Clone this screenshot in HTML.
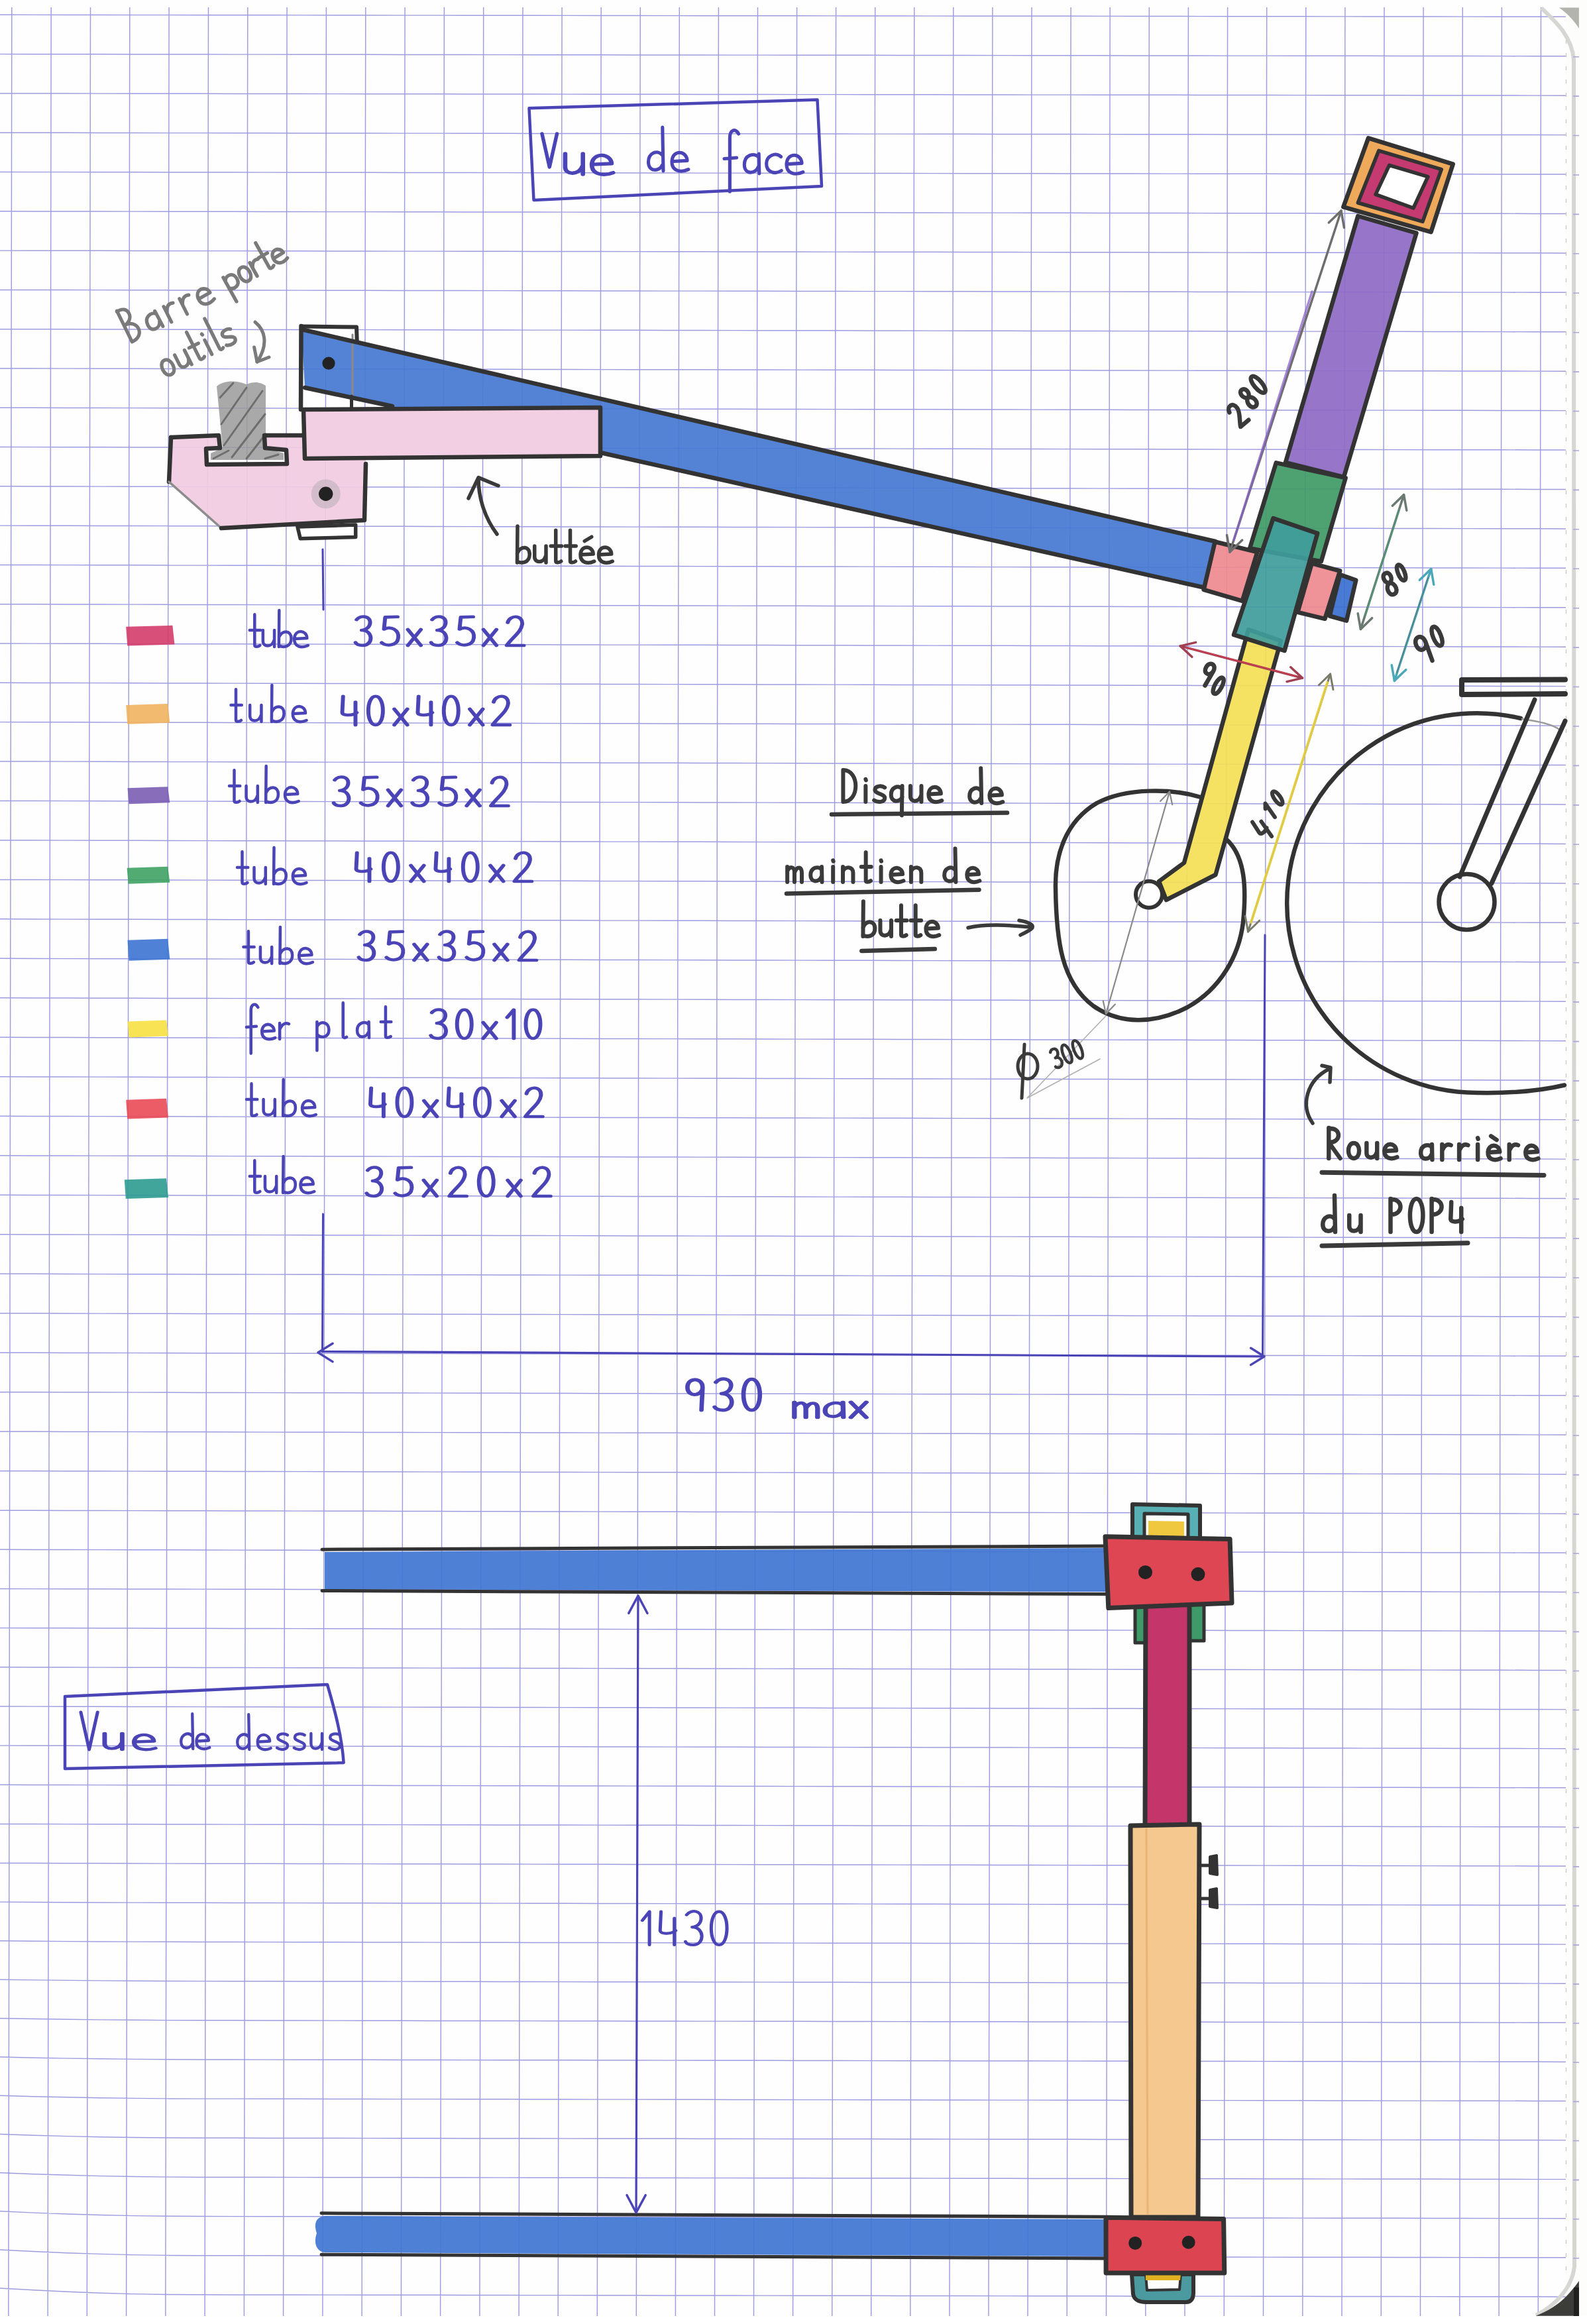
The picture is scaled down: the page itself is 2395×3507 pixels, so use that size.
<!DOCTYPE html><html><head><meta charset="utf-8"><style>html,body{margin:0;padding:0;background:#fff;}body{width:2395px;height:3507px;overflow:hidden;font-family:"Liberation Sans",sans-serif;}svg{display:block;}</style></head><body><svg width="2395" height="3507" viewBox="0 0 2395 3507"><rect x="0" y="0" width="2395" height="3507" fill="#fefefe"/>
<path d="M17.8,11L12.8,3495M77.2,11L72.1,3495M136.5,11L131.3,3495M195.8,11L190.6,3495M255.1,11L249.8,3495M314.5,11L309.1,3495M373.8,11L368.4,3495M433.1,11L427.6,3495M492.4,11L486.9,3495M551.8,11L546.1,3495M611.1,11L605.4,3495M670.4,11L664.6,3495M729.7,11L723.9,3495M789.0,11L783.1,3495M848.1,11L842.2,3495M907.2,11L901.3,3495M966.3,11L960.3,3495M1025.3,11L1019.4,3495M1084.4,11L1078.5,3495M1143.5,11L1137.5,3495M1202.6,11L1196.6,3495M1261.6,11L1255.7,3495M1320.7,11L1314.7,3495M1379.8,11L1373.8,3495M1438.8,11L1432.9,3495M1497.9,11L1491.9,3495M1557.0,11L1551.0,3495M1616.1,11L1610.2,3495M1675.2,11L1669.5,3495M1734.3,11L1728.8,3495M1793.4,11L1788.0,3495M1852.6,11L1847.3,3495M1911.7,11L1906.5,3495M1970.8,11L1965.8,3495M2029.9,11L2025.0,3495M2089.0,11L2084.3,3495M2148.1,11L2143.5,3495M2207.3,11L2202.8,3495M2266.4,11L2262.1,3495M2325.5,11L2321.3,3495M0.0,22.3L50.3,22.4L100.6,22.4L150.8,22.5L201.1,22.6L251.4,22.6L301.7,22.7L351.9,22.8L402.2,22.8L452.5,22.9L502.8,23.0L553.0,23.0L603.3,23.1L653.6,23.1L703.9,23.2L754.1,23.3L804.4,23.3L854.7,23.4L905.0,23.5L955.3,23.5L1005.5,23.6L1055.8,23.7L1106.1,23.7L1156.4,23.8L1206.6,23.8L1256.9,23.9L1307.2,24.0L1357.5,24.0L1407.7,24.1L1458.0,24.2L1508.3,24.2L1558.6,24.3L1608.9,24.3L1659.1,24.4L1709.4,24.5L1759.7,24.5L1810.0,24.6L1860.2,24.7L1910.5,24.7L1960.8,24.8L2011.1,24.9L2061.3,24.9L2111.6,25.0L2161.9,25.0L2212.2,25.1L2262.4,25.2L2312.7,25.2L2363.0,25.3M0.0,81.6L50.3,81.7L100.6,81.7L150.8,81.8L201.1,81.9L251.4,81.9L301.7,82.0L351.9,82.1L402.2,82.1L452.5,82.2L502.8,82.3L553.0,82.3L603.3,82.4L653.6,82.5L703.9,82.5L754.1,82.6L804.4,82.7L854.7,82.7L905.0,82.8L955.3,82.9L1005.5,82.9L1055.8,83.0L1106.1,83.1L1156.4,83.1L1206.6,83.2L1256.9,83.3L1307.2,83.3L1357.5,83.4L1407.7,83.5L1458.0,83.5L1508.3,83.6L1558.6,83.7L1608.9,83.7L1659.1,83.8L1709.4,83.9L1759.7,83.9L1810.0,84.0L1860.2,84.1L1910.5,84.1L1960.8,84.2L2011.1,84.3L2061.3,84.3L2111.6,84.4L2161.9,84.5L2212.2,84.5L2262.4,84.6L2312.7,84.7L2363.0,84.7M0.0,140.9L50.3,141.0L100.6,141.0L150.8,141.1L201.1,141.2L251.4,141.3L301.7,141.3L351.9,141.4L402.2,141.5L452.5,141.5L502.8,141.6L553.0,141.7L603.3,141.7L653.6,141.8L703.9,141.9L754.1,141.9L804.4,142.0L854.7,142.1L905.0,142.2L955.3,142.2L1005.5,142.3L1055.8,142.4L1106.1,142.4L1156.4,142.5L1206.6,142.6L1256.9,142.6L1307.2,142.7L1357.5,142.8L1407.7,142.8L1458.0,142.9L1508.3,143.0L1558.6,143.1L1608.9,143.1L1659.1,143.2L1709.4,143.3L1759.7,143.3L1810.0,143.4L1860.2,143.5L1910.5,143.5L1960.8,143.6L2011.1,143.7L2061.3,143.7L2111.6,143.8L2161.9,143.9L2212.2,144.0L2262.4,144.0L2312.7,144.1L2363.0,144.2M0.0,200.2L50.3,200.3L100.6,200.3L150.8,200.4L201.1,200.5L251.4,200.6L301.7,200.6L351.9,200.7L402.2,200.8L452.5,200.9L502.8,200.9L553.0,201.0L603.3,201.1L653.6,201.1L703.9,201.2L754.1,201.3L804.4,201.4L854.7,201.4L905.0,201.5L955.3,201.6L1005.5,201.6L1055.8,201.7L1106.1,201.8L1156.4,201.9L1206.6,201.9L1256.9,202.0L1307.2,202.1L1357.5,202.1L1407.7,202.2L1458.0,202.3L1508.3,202.4L1558.6,202.4L1608.9,202.5L1659.1,202.6L1709.4,202.7L1759.7,202.7L1810.0,202.8L1860.2,202.9L1910.5,202.9L1960.8,203.0L2011.1,203.1L2061.3,203.2L2111.6,203.2L2161.9,203.3L2212.2,203.4L2262.4,203.4L2312.7,203.5L2363.0,203.6M0.0,259.5L50.3,259.6L100.6,259.6L150.8,259.7L201.1,259.8L251.4,259.9L301.7,259.9L351.9,260.0L402.2,260.1L452.5,260.2L502.8,260.2L553.0,260.3L603.3,260.4L653.6,260.5L703.9,260.5L754.1,260.6L804.4,260.7L854.7,260.8L905.0,260.8L955.3,260.9L1005.5,261.0L1055.8,261.1L1106.1,261.1L1156.4,261.2L1206.6,261.3L1256.9,261.4L1307.2,261.4L1357.5,261.5L1407.7,261.6L1458.0,261.7L1508.3,261.7L1558.6,261.8L1608.9,261.9L1659.1,262.0L1709.4,262.0L1759.7,262.1L1810.0,262.2L1860.2,262.3L1910.5,262.3L1960.8,262.4L2011.1,262.5L2061.3,262.6L2111.6,262.6L2161.9,262.7L2212.2,262.8L2262.4,262.9L2312.7,262.9L2363.0,263.0M0.0,318.8L50.3,318.9L100.6,318.9L150.8,319.0L201.1,319.1L251.4,319.2L301.7,319.3L351.9,319.3L402.2,319.4L452.5,319.5L502.8,319.6L553.0,319.6L603.3,319.7L653.6,319.8L703.9,319.9L754.1,320.0L804.4,320.0L854.7,320.1L905.0,320.2L955.3,320.3L1005.5,320.3L1055.8,320.4L1106.1,320.5L1156.4,320.6L1206.6,320.7L1256.9,320.7L1307.2,320.8L1357.5,320.9L1407.7,321.0L1458.0,321.1L1508.3,321.1L1558.6,321.2L1608.9,321.3L1659.1,321.4L1709.4,321.4L1759.7,321.5L1810.0,321.6L1860.2,321.7L1910.5,321.8L1960.8,321.8L2011.1,321.9L2061.3,322.0L2111.6,322.1L2161.9,322.1L2212.2,322.2L2262.4,322.3L2312.7,322.4L2363.0,322.5M0.0,378.1L50.3,378.2L100.6,378.2L150.8,378.3L201.1,378.4L251.4,378.5L301.7,378.6L351.9,378.6L402.2,378.7L452.5,378.8L502.8,378.9L553.0,379.0L603.3,379.1L653.6,379.1L703.9,379.2L754.1,379.3L804.4,379.4L854.7,379.5L905.0,379.5L955.3,379.6L1005.5,379.7L1055.8,379.8L1106.1,379.9L1156.4,379.9L1206.6,380.0L1256.9,380.1L1307.2,380.2L1357.5,380.3L1407.7,380.3L1458.0,380.4L1508.3,380.5L1558.6,380.6L1608.9,380.7L1659.1,380.8L1709.4,380.8L1759.7,380.9L1810.0,381.0L1860.2,381.1L1910.5,381.2L1960.8,381.2L2011.1,381.3L2061.3,381.4L2111.6,381.5L2161.9,381.6L2212.2,381.6L2262.4,381.7L2312.7,381.8L2363.0,381.9M0.0,437.4L50.3,437.5L100.6,437.5L150.8,437.6L201.1,437.7L251.4,437.8L301.7,437.9L351.9,438.0L402.2,438.0L452.5,438.1L502.8,438.2L553.0,438.3L603.3,438.4L653.6,438.5L703.9,438.5L754.1,438.6L804.4,438.7L854.7,438.8L905.0,438.9L955.3,439.0L1005.5,439.1L1055.8,439.1L1106.1,439.2L1156.4,439.3L1206.6,439.4L1256.9,439.5L1307.2,439.6L1357.5,439.6L1407.7,439.7L1458.0,439.8L1508.3,439.9L1558.6,440.0L1608.9,440.1L1659.1,440.1L1709.4,440.2L1759.7,440.3L1810.0,440.4L1860.2,440.5L1910.5,440.6L1960.8,440.6L2011.1,440.7L2061.3,440.8L2111.6,440.9L2161.9,441.0L2212.2,441.1L2262.4,441.1L2312.7,441.2L2363.0,441.3M0.0,496.7L50.3,496.8L100.6,496.8L150.8,496.9L201.1,497.0L251.4,497.1L301.7,497.2L351.9,497.3L402.2,497.4L452.5,497.4L502.8,497.5L553.0,497.6L603.3,497.7L653.6,497.8L703.9,497.9L754.1,498.0L804.4,498.1L854.7,498.1L905.0,498.2L955.3,498.3L1005.5,498.4L1055.8,498.5L1106.1,498.6L1156.4,498.7L1206.6,498.8L1256.9,498.8L1307.2,498.9L1357.5,499.0L1407.7,499.1L1458.0,499.2L1508.3,499.3L1558.6,499.4L1608.9,499.4L1659.1,499.5L1709.4,499.6L1759.7,499.7L1810.0,499.8L1860.2,499.9L1910.5,500.0L1960.8,500.1L2011.1,500.1L2061.3,500.2L2111.6,500.3L2161.9,500.4L2212.2,500.5L2262.4,500.6L2312.7,500.7L2363.0,500.7M0.0,556.0L50.3,556.0L100.6,556.1L150.8,556.2L201.1,556.3L251.4,556.4L301.7,556.5L351.9,556.6L402.2,556.7L452.5,556.8L502.8,556.9L553.0,556.9L603.3,557.0L653.6,557.1L703.9,557.2L754.1,557.3L804.4,557.4L854.7,557.5L905.0,557.6L955.3,557.7L1005.5,557.8L1055.8,557.8L1106.1,557.9L1156.4,558.0L1206.6,558.1L1256.9,558.2L1307.2,558.3L1357.5,558.4L1407.7,558.5L1458.0,558.6L1508.3,558.7L1558.6,558.7L1608.9,558.8L1659.1,558.9L1709.4,559.0L1759.7,559.1L1810.0,559.2L1860.2,559.3L1910.5,559.4L1960.8,559.5L2011.1,559.6L2061.3,559.6L2111.6,559.7L2161.9,559.8L2212.2,559.9L2262.4,560.0L2312.7,560.1L2363.0,560.2M0.0,615.3L50.3,615.3L100.6,615.4L150.8,615.5L201.1,615.6L251.4,615.7L301.7,615.8L351.9,615.9L402.2,616.0L452.5,616.1L502.8,616.2L553.0,616.3L603.3,616.4L653.6,616.5L703.9,616.6L754.1,616.6L804.4,616.7L854.7,616.8L905.0,616.9L955.3,617.0L1005.5,617.1L1055.8,617.2L1106.1,617.3L1156.4,617.4L1206.6,617.5L1256.9,617.6L1307.2,617.7L1357.5,617.8L1407.7,617.8L1458.0,617.9L1508.3,618.0L1558.6,618.1L1608.9,618.2L1659.1,618.3L1709.4,618.4L1759.7,618.5L1810.0,618.6L1860.2,618.7L1910.5,618.8L1960.8,618.9L2011.1,619.0L2061.3,619.1L2111.6,619.1L2161.9,619.2L2212.2,619.3L2262.4,619.4L2312.7,619.5L2363.0,619.6M0.0,674.5L50.3,674.6L100.6,674.7L150.8,674.8L201.1,674.9L251.4,675.0L301.7,675.1L351.9,675.2L402.2,675.3L452.5,675.4L502.8,675.5L553.0,675.6L603.3,675.7L653.6,675.8L703.9,675.9L754.1,676.0L804.4,676.1L854.7,676.2L905.0,676.3L955.3,676.4L1005.5,676.5L1055.8,676.6L1106.1,676.6L1156.4,676.7L1206.6,676.8L1256.9,676.9L1307.2,677.0L1357.5,677.1L1407.7,677.2L1458.0,677.3L1508.3,677.4L1558.6,677.5L1608.9,677.6L1659.1,677.7L1709.4,677.8L1759.7,677.9L1810.0,678.0L1860.2,678.1L1910.5,678.2L1960.8,678.3L2011.1,678.4L2061.3,678.5L2111.6,678.6L2161.9,678.7L2212.2,678.8L2262.4,678.8L2312.7,678.9L2363.0,679.0M0.0,733.8L50.3,733.9L100.6,734.0L150.8,734.1L201.1,734.2L251.4,734.3L301.7,734.4L351.9,734.5L402.2,734.6L452.5,734.7L502.8,734.8L553.0,734.9L603.3,735.0L653.6,735.1L703.9,735.2L754.1,735.3L804.4,735.4L854.7,735.5L905.0,735.6L955.3,735.7L1005.5,735.8L1055.8,735.9L1106.1,736.0L1156.4,736.1L1206.6,736.2L1256.9,736.3L1307.2,736.4L1357.5,736.5L1407.7,736.6L1458.0,736.7L1508.3,736.8L1558.6,736.9L1608.9,737.0L1659.1,737.1L1709.4,737.2L1759.7,737.3L1810.0,737.4L1860.2,737.5L1910.5,737.6L1960.8,737.7L2011.1,737.8L2061.3,737.9L2111.6,738.0L2161.9,738.1L2212.2,738.2L2262.4,738.3L2312.7,738.4L2363.0,738.5M0.0,793.1L50.3,793.2L100.6,793.3L150.8,793.4L201.1,793.5L251.4,793.6L301.7,793.7L351.9,793.8L402.2,793.9L452.5,794.0L502.8,794.1L553.0,794.2L603.3,794.3L653.6,794.5L703.9,794.6L754.1,794.7L804.4,794.8L854.7,794.9L905.0,795.0L955.3,795.1L1005.5,795.2L1055.8,795.3L1106.1,795.4L1156.4,795.5L1206.6,795.6L1256.9,795.7L1307.2,795.8L1357.5,795.9L1407.7,796.0L1458.0,796.1L1508.3,796.2L1558.6,796.3L1608.9,796.4L1659.1,796.5L1709.4,796.6L1759.7,796.7L1810.0,796.8L1860.2,796.9L1910.5,797.0L1960.8,797.1L2011.1,797.2L2061.3,797.3L2111.6,797.4L2161.9,797.5L2212.2,797.6L2262.4,797.7L2312.7,797.8L2363.0,797.9M0.0,852.4L50.3,852.5L100.6,852.6L150.8,852.7L201.1,852.8L251.4,852.9L301.7,853.1L351.9,853.2L402.2,853.3L452.5,853.4L502.8,853.5L553.0,853.6L603.3,853.7L653.6,853.8L703.9,853.9L754.1,854.0L804.4,854.1L854.7,854.2L905.0,854.3L955.3,854.4L1005.5,854.5L1055.8,854.6L1106.1,854.7L1156.4,854.8L1206.6,854.9L1256.9,855.0L1307.2,855.1L1357.5,855.2L1407.7,855.3L1458.0,855.5L1508.3,855.6L1558.6,855.7L1608.9,855.8L1659.1,855.9L1709.4,856.0L1759.7,856.1L1810.0,856.2L1860.2,856.3L1910.5,856.4L1960.8,856.5L2011.1,856.6L2061.3,856.7L2111.6,856.8L2161.9,856.9L2212.2,857.0L2262.4,857.1L2312.7,857.2L2363.0,857.3M0.0,911.7L50.3,911.8L100.6,911.9L150.8,912.0L201.1,912.1L251.4,912.3L301.7,912.4L351.9,912.5L402.2,912.6L452.5,912.7L502.8,912.8L553.0,912.9L603.3,913.0L653.6,913.1L703.9,913.2L754.1,913.3L804.4,913.4L854.7,913.5L905.0,913.7L955.3,913.8L1005.5,913.9L1055.8,914.0L1106.1,914.1L1156.4,914.2L1206.6,914.3L1256.9,914.4L1307.2,914.5L1357.5,914.6L1407.7,914.7L1458.0,914.8L1508.3,914.9L1558.6,915.0L1608.9,915.2L1659.1,915.3L1709.4,915.4L1759.7,915.5L1810.0,915.6L1860.2,915.7L1910.5,915.8L1960.8,915.9L2011.1,916.0L2061.3,916.1L2111.6,916.2L2161.9,916.3L2212.2,916.4L2262.4,916.6L2312.7,916.7L2363.0,916.8M0.0,971.0L50.3,971.1L100.6,971.2L150.8,971.3L201.1,971.5L251.4,971.6L301.7,971.7L351.9,971.8L402.2,971.9L452.5,972.0L502.8,972.1L553.0,972.2L603.3,972.3L653.6,972.4L703.9,972.6L754.1,972.7L804.4,972.8L854.7,972.9L905.0,973.0L955.3,973.1L1005.5,973.2L1055.8,973.3L1106.1,973.4L1156.4,973.5L1206.6,973.7L1256.9,973.8L1307.2,973.9L1357.5,974.0L1407.7,974.1L1458.0,974.2L1508.3,974.3L1558.6,974.4L1608.9,974.5L1659.1,974.7L1709.4,974.8L1759.7,974.9L1810.0,975.0L1860.2,975.1L1910.5,975.2L1960.8,975.3L2011.1,975.4L2061.3,975.5L2111.6,975.6L2161.9,975.8L2212.2,975.9L2262.4,976.0L2312.7,976.1L2363.0,976.2M0.0,1030.3L50.3,1030.4L100.6,1030.5L150.8,1030.6L201.1,1030.8L251.4,1030.9L301.7,1031.0L351.9,1031.1L402.2,1031.2L452.5,1031.3L502.8,1031.4L553.0,1031.5L603.3,1031.7L653.6,1031.8L703.9,1031.9L754.1,1032.0L804.4,1032.1L854.7,1032.2L905.0,1032.3L955.3,1032.5L1005.5,1032.6L1055.8,1032.7L1106.1,1032.8L1156.4,1032.9L1206.6,1033.0L1256.9,1033.1L1307.2,1033.2L1357.5,1033.4L1407.7,1033.5L1458.0,1033.6L1508.3,1033.7L1558.6,1033.8L1608.9,1033.9L1659.1,1034.0L1709.4,1034.2L1759.7,1034.3L1810.0,1034.4L1860.2,1034.5L1910.5,1034.6L1960.8,1034.7L2011.1,1034.8L2061.3,1034.9L2111.6,1035.1L2161.9,1035.2L2212.2,1035.3L2262.4,1035.4L2312.7,1035.5L2363.0,1035.6M0.0,1089.6L50.3,1089.7L100.6,1089.8L150.8,1089.9L201.1,1090.1L251.4,1090.2L301.7,1090.3L351.9,1090.4L402.2,1090.5L452.5,1090.6L502.8,1090.8L553.0,1090.9L603.3,1091.0L653.6,1091.1L703.9,1091.2L754.1,1091.3L804.4,1091.5L854.7,1091.6L905.0,1091.7L955.3,1091.8L1005.5,1091.9L1055.8,1092.0L1106.1,1092.2L1156.4,1092.3L1206.6,1092.4L1256.9,1092.5L1307.2,1092.6L1357.5,1092.7L1407.7,1092.9L1458.0,1093.0L1508.3,1093.1L1558.6,1093.2L1608.9,1093.3L1659.1,1093.4L1709.4,1093.5L1759.7,1093.7L1810.0,1093.8L1860.2,1093.9L1910.5,1094.0L1960.8,1094.1L2011.1,1094.2L2061.3,1094.4L2111.6,1094.5L2161.9,1094.6L2212.2,1094.7L2262.4,1094.8L2312.7,1094.9L2363.0,1095.1M0.0,1148.9L50.3,1149.0L100.6,1149.1L150.8,1149.2L201.1,1149.4L251.4,1149.5L301.7,1149.6L351.9,1149.7L402.2,1149.8L452.5,1150.0L502.8,1150.1L553.0,1150.2L603.3,1150.3L653.6,1150.4L703.9,1150.6L754.1,1150.7L804.4,1150.8L854.7,1150.9L905.0,1151.0L955.3,1151.2L1005.5,1151.3L1055.8,1151.4L1106.1,1151.5L1156.4,1151.6L1206.6,1151.7L1256.9,1151.9L1307.2,1152.0L1357.5,1152.1L1407.7,1152.2L1458.0,1152.3L1508.3,1152.5L1558.6,1152.6L1608.9,1152.7L1659.1,1152.8L1709.4,1152.9L1759.7,1153.1L1810.0,1153.2L1860.2,1153.3L1910.5,1153.4L1960.8,1153.5L2011.1,1153.7L2061.3,1153.8L2111.6,1153.9L2161.9,1154.0L2212.2,1154.1L2262.4,1154.3L2312.7,1154.4L2363.0,1154.5M0.0,1208.4L50.3,1208.5L100.6,1208.6L150.8,1208.7L201.1,1208.9L251.4,1209.0L301.7,1209.1L351.9,1209.2L402.2,1209.3L452.5,1209.4L502.8,1209.6L553.0,1209.7L603.3,1209.8L653.6,1209.9L703.9,1210.0L754.1,1210.2L804.4,1210.3L854.7,1210.4L905.0,1210.5L955.3,1210.6L1005.5,1210.7L1055.8,1210.9L1106.1,1211.0L1156.4,1211.1L1206.6,1211.2L1256.9,1211.3L1307.2,1211.5L1357.5,1211.6L1407.7,1211.7L1458.0,1211.8L1508.3,1211.9L1558.6,1212.1L1608.9,1212.2L1659.1,1212.3L1709.4,1212.4L1759.7,1212.5L1810.0,1212.6L1860.2,1212.8L1910.5,1212.9L1960.8,1213.0L2011.1,1213.1L2061.3,1213.2L2111.6,1213.4L2161.9,1213.5L2212.2,1213.6L2262.4,1213.7L2312.7,1213.8L2363.0,1213.9M0.0,1267.9L50.3,1268.0L100.6,1268.1L150.8,1268.2L201.1,1268.3L251.4,1268.5L301.7,1268.6L351.9,1268.7L402.2,1268.8L452.5,1268.9L502.8,1269.0L553.0,1269.2L603.3,1269.3L653.6,1269.4L703.9,1269.5L754.1,1269.6L804.4,1269.8L854.7,1269.9L905.0,1270.0L955.3,1270.1L1005.5,1270.2L1055.8,1270.3L1106.1,1270.5L1156.4,1270.6L1206.6,1270.7L1256.9,1270.8L1307.2,1270.9L1357.5,1271.0L1407.7,1271.2L1458.0,1271.3L1508.3,1271.4L1558.6,1271.5L1608.9,1271.6L1659.1,1271.8L1709.4,1271.9L1759.7,1272.0L1810.0,1272.1L1860.2,1272.2L1910.5,1272.3L1960.8,1272.5L2011.1,1272.6L2061.3,1272.7L2111.6,1272.8L2161.9,1272.9L2212.2,1273.0L2262.4,1273.2L2312.7,1273.3L2363.0,1273.4M0.0,1327.4L50.3,1327.5L100.6,1327.6L150.8,1327.7L201.1,1327.8L251.4,1327.9L301.7,1328.1L351.9,1328.2L402.2,1328.3L452.5,1328.4L502.8,1328.5L553.0,1328.6L603.3,1328.8L653.6,1328.9L703.9,1329.0L754.1,1329.1L804.4,1329.2L854.7,1329.3L905.0,1329.5L955.3,1329.6L1005.5,1329.7L1055.8,1329.8L1106.1,1329.9L1156.4,1330.0L1206.6,1330.2L1256.9,1330.3L1307.2,1330.4L1357.5,1330.5L1407.7,1330.6L1458.0,1330.8L1508.3,1330.9L1558.6,1331.0L1608.9,1331.1L1659.1,1331.2L1709.4,1331.3L1759.7,1331.5L1810.0,1331.6L1860.2,1331.7L1910.5,1331.8L1960.8,1331.9L2011.1,1332.0L2061.3,1332.2L2111.6,1332.3L2161.9,1332.4L2212.2,1332.5L2262.4,1332.6L2312.7,1332.7L2363.0,1332.9M0.0,1386.8L50.3,1387.0L100.6,1387.1L150.8,1387.2L201.1,1387.3L251.4,1387.4L301.7,1387.5L351.9,1387.7L402.2,1387.8L452.5,1387.9L502.8,1388.0L553.0,1388.1L603.3,1388.2L653.6,1388.4L703.9,1388.5L754.1,1388.6L804.4,1388.7L854.7,1388.8L905.0,1388.9L955.3,1389.1L1005.5,1389.2L1055.8,1389.3L1106.1,1389.4L1156.4,1389.5L1206.6,1389.6L1256.9,1389.8L1307.2,1389.9L1357.5,1390.0L1407.7,1390.1L1458.0,1390.2L1508.3,1390.3L1558.6,1390.5L1608.9,1390.6L1659.1,1390.7L1709.4,1390.8L1759.7,1390.9L1810.0,1391.0L1860.2,1391.2L1910.5,1391.3L1960.8,1391.4L2011.1,1391.5L2061.3,1391.6L2111.6,1391.7L2161.9,1391.8L2212.2,1392.0L2262.4,1392.1L2312.7,1392.2L2363.0,1392.3M0.0,1446.3L50.3,1446.4L100.6,1446.6L150.8,1446.7L201.1,1446.8L251.4,1446.9L301.7,1447.0L351.9,1447.1L402.2,1447.3L452.5,1447.4L502.8,1447.5L553.0,1447.6L603.3,1447.7L653.6,1447.8L703.9,1448.0L754.1,1448.1L804.4,1448.2L854.7,1448.3L905.0,1448.4L955.3,1448.5L1005.5,1448.6L1055.8,1448.8L1106.1,1448.9L1156.4,1449.0L1206.6,1449.1L1256.9,1449.2L1307.2,1449.3L1357.5,1449.5L1407.7,1449.6L1458.0,1449.7L1508.3,1449.8L1558.6,1449.9L1608.9,1450.0L1659.1,1450.2L1709.4,1450.3L1759.7,1450.4L1810.0,1450.5L1860.2,1450.6L1910.5,1450.7L1960.8,1450.8L2011.1,1451.0L2061.3,1451.1L2111.6,1451.2L2161.9,1451.3L2212.2,1451.4L2262.4,1451.5L2312.7,1451.7L2363.0,1451.8M0.0,1505.8L50.3,1505.9L100.6,1506.0L150.8,1506.2L201.1,1506.3L251.4,1506.4L301.7,1506.5L351.9,1506.6L402.2,1506.7L452.5,1506.9L502.8,1507.0L553.0,1507.1L603.3,1507.2L653.6,1507.3L703.9,1507.4L754.1,1507.5L804.4,1507.7L854.7,1507.8L905.0,1507.9L955.3,1508.0L1005.5,1508.1L1055.8,1508.2L1106.1,1508.4L1156.4,1508.5L1206.6,1508.6L1256.9,1508.7L1307.2,1508.8L1357.5,1508.9L1407.7,1509.0L1458.0,1509.2L1508.3,1509.3L1558.6,1509.4L1608.9,1509.5L1659.1,1509.6L1709.4,1509.7L1759.7,1509.8L1810.0,1510.0L1860.2,1510.1L1910.5,1510.2L1960.8,1510.3L2011.1,1510.4L2061.3,1510.5L2111.6,1510.7L2161.9,1510.8L2212.2,1510.9L2262.4,1511.0L2312.7,1511.1L2363.0,1511.2M0.0,1565.3L50.3,1565.4L100.6,1565.5L150.8,1565.7L201.1,1565.8L251.4,1565.9L301.7,1566.0L351.9,1566.1L402.2,1566.2L452.5,1566.3L502.8,1566.5L553.0,1566.6L603.3,1566.7L653.6,1566.8L703.9,1566.9L754.1,1567.0L804.4,1567.1L854.7,1567.3L905.0,1567.4L955.3,1567.5L1005.5,1567.6L1055.8,1567.7L1106.1,1567.8L1156.4,1567.9L1206.6,1568.1L1256.9,1568.2L1307.2,1568.3L1357.5,1568.4L1407.7,1568.5L1458.0,1568.6L1508.3,1568.7L1558.6,1568.9L1608.9,1569.0L1659.1,1569.1L1709.4,1569.2L1759.7,1569.3L1810.0,1569.4L1860.2,1569.5L1910.5,1569.7L1960.8,1569.8L2011.1,1569.9L2061.3,1570.0L2111.6,1570.1L2161.9,1570.2L2212.2,1570.3L2262.4,1570.5L2312.7,1570.6L2363.0,1570.7M0.0,1624.8L50.3,1624.9L100.6,1625.0L150.8,1625.1L201.1,1625.2L251.4,1625.4L301.7,1625.5L351.9,1625.6L402.2,1625.7L452.5,1625.8L502.8,1625.9L553.0,1626.0L603.3,1626.2L653.6,1626.3L703.9,1626.4L754.1,1626.5L804.4,1626.6L854.7,1626.7L905.0,1626.8L955.3,1627.0L1005.5,1627.1L1055.8,1627.2L1106.1,1627.3L1156.4,1627.4L1206.6,1627.5L1256.9,1627.6L1307.2,1627.8L1357.5,1627.9L1407.7,1628.0L1458.0,1628.1L1508.3,1628.2L1558.6,1628.3L1608.9,1628.4L1659.1,1628.5L1709.4,1628.7L1759.7,1628.8L1810.0,1628.9L1860.2,1629.0L1910.5,1629.1L1960.8,1629.2L2011.1,1629.3L2061.3,1629.5L2111.6,1629.6L2161.9,1629.7L2212.2,1629.8L2262.4,1629.9L2312.7,1630.0L2363.0,1630.1M0.0,1684.3L50.3,1684.4L100.6,1684.5L150.8,1684.6L201.1,1684.7L251.4,1684.8L301.7,1685.0L351.9,1685.1L402.2,1685.2L452.5,1685.3L502.8,1685.4L553.0,1685.5L603.3,1685.6L653.6,1685.8L703.9,1685.9L754.1,1686.0L804.4,1686.1L854.7,1686.2L905.0,1686.3L955.3,1686.4L1005.5,1686.5L1055.8,1686.7L1106.1,1686.8L1156.4,1686.9L1206.6,1687.0L1256.9,1687.1L1307.2,1687.2L1357.5,1687.3L1407.7,1687.4L1458.0,1687.6L1508.3,1687.7L1558.6,1687.8L1608.9,1687.9L1659.1,1688.0L1709.4,1688.1L1759.7,1688.2L1810.0,1688.4L1860.2,1688.5L1910.5,1688.6L1960.8,1688.7L2011.1,1688.8L2061.3,1688.9L2111.6,1689.0L2161.9,1689.1L2212.2,1689.3L2262.4,1689.4L2312.7,1689.5L2363.0,1689.6M0.0,1743.8L50.3,1743.9L100.6,1744.0L150.8,1744.1L201.1,1744.2L251.4,1744.3L301.7,1744.4L351.9,1744.6L402.2,1744.7L452.5,1744.8L502.8,1744.9L553.0,1745.0L603.3,1745.1L653.6,1745.2L703.9,1745.3L754.1,1745.5L804.4,1745.6L854.7,1745.7L905.0,1745.8L955.3,1745.9L1005.5,1746.0L1055.8,1746.1L1106.1,1746.2L1156.4,1746.4L1206.6,1746.5L1256.9,1746.6L1307.2,1746.7L1357.5,1746.8L1407.7,1746.9L1458.0,1747.0L1508.3,1747.1L1558.6,1747.3L1608.9,1747.4L1659.1,1747.5L1709.4,1747.6L1759.7,1747.7L1810.0,1747.8L1860.2,1747.9L1910.5,1748.0L1960.8,1748.2L2011.1,1748.3L2061.3,1748.4L2111.6,1748.5L2161.9,1748.6L2212.2,1748.7L2262.4,1748.8L2312.7,1748.9L2363.0,1749.1M0.0,1803.3L50.3,1803.4L100.6,1803.5L150.8,1803.6L201.1,1803.7L251.4,1803.8L301.7,1803.9L351.9,1804.0L402.2,1804.2L452.5,1804.3L502.8,1804.4L553.0,1804.5L603.3,1804.6L653.6,1804.7L703.9,1804.8L754.1,1804.9L804.4,1805.0L854.7,1805.2L905.0,1805.3L955.3,1805.4L1005.5,1805.5L1055.8,1805.6L1106.1,1805.7L1156.4,1805.8L1206.6,1805.9L1256.9,1806.1L1307.2,1806.2L1357.5,1806.3L1407.7,1806.4L1458.0,1806.5L1508.3,1806.6L1558.6,1806.7L1608.9,1806.8L1659.1,1806.9L1709.4,1807.1L1759.7,1807.2L1810.0,1807.3L1860.2,1807.4L1910.5,1807.5L1960.8,1807.6L2011.1,1807.7L2061.3,1807.8L2111.6,1808.0L2161.9,1808.1L2212.2,1808.2L2262.4,1808.3L2312.7,1808.4L2363.0,1808.5M0.0,1862.7L50.3,1862.9L100.6,1863.0L150.8,1863.1L201.1,1863.2L251.4,1863.3L301.7,1863.4L351.9,1863.5L402.2,1863.6L452.5,1863.7L502.8,1863.9L553.0,1864.0L603.3,1864.1L653.6,1864.2L703.9,1864.3L754.1,1864.4L804.4,1864.5L854.7,1864.6L905.0,1864.7L955.3,1864.9L1005.5,1865.0L1055.8,1865.1L1106.1,1865.2L1156.4,1865.3L1206.6,1865.4L1256.9,1865.5L1307.2,1865.6L1357.5,1865.7L1407.7,1865.9L1458.0,1866.0L1508.3,1866.1L1558.6,1866.2L1608.9,1866.3L1659.1,1866.4L1709.4,1866.5L1759.7,1866.6L1810.0,1866.7L1860.2,1866.9L1910.5,1867.0L1960.8,1867.1L2011.1,1867.2L2061.3,1867.3L2111.6,1867.4L2161.9,1867.5L2212.2,1867.6L2262.4,1867.7L2312.7,1867.9L2363.0,1868.0M0.0,1922.2L50.3,1922.3L100.6,1922.5L150.8,1922.6L201.1,1922.7L251.4,1922.8L301.7,1922.9L351.9,1923.0L402.2,1923.1L452.5,1923.2L502.8,1923.3L553.0,1923.5L603.3,1923.6L653.6,1923.7L703.9,1923.8L754.1,1923.9L804.4,1924.0L854.7,1924.1L905.0,1924.2L955.3,1924.3L1005.5,1924.4L1055.8,1924.6L1106.1,1924.7L1156.4,1924.8L1206.6,1924.9L1256.9,1925.0L1307.2,1925.1L1357.5,1925.2L1407.7,1925.3L1458.0,1925.4L1508.3,1925.5L1558.6,1925.7L1608.9,1925.8L1659.1,1925.9L1709.4,1926.0L1759.7,1926.1L1810.0,1926.2L1860.2,1926.3L1910.5,1926.4L1960.8,1926.5L2011.1,1926.6L2061.3,1926.8L2111.6,1926.9L2161.9,1927.0L2212.2,1927.1L2262.4,1927.2L2312.7,1927.3L2363.0,1927.4M0.0,1981.7L50.3,1981.8L100.6,1981.9L150.8,1982.1L201.1,1982.2L251.4,1982.3L301.7,1982.4L351.9,1982.5L402.2,1982.6L452.5,1982.7L502.8,1982.8L553.0,1982.9L603.3,1983.0L653.6,1983.2L703.9,1983.3L754.1,1983.4L804.4,1983.5L854.7,1983.6L905.0,1983.7L955.3,1983.8L1005.5,1983.9L1055.8,1984.0L1106.1,1984.1L1156.4,1984.2L1206.6,1984.4L1256.9,1984.5L1307.2,1984.6L1357.5,1984.7L1407.7,1984.8L1458.0,1984.9L1508.3,1985.0L1558.6,1985.1L1608.9,1985.2L1659.1,1985.3L1709.4,1985.5L1759.7,1985.6L1810.0,1985.7L1860.2,1985.8L1910.5,1985.9L1960.8,1986.0L2011.1,1986.1L2061.3,1986.2L2111.6,1986.3L2161.9,1986.4L2212.2,1986.5L2262.4,1986.7L2312.7,1986.8L2363.0,1986.9M0.0,2041.2L50.3,2041.3L100.6,2041.4L150.8,2041.5L201.1,2041.6L251.4,2041.8L301.7,2041.9L351.9,2042.0L402.2,2042.1L452.5,2042.2L502.8,2042.3L553.0,2042.4L603.3,2042.5L653.6,2042.6L703.9,2042.7L754.1,2042.8L804.4,2043.0L854.7,2043.1L905.0,2043.2L955.3,2043.3L1005.5,2043.4L1055.8,2043.5L1106.1,2043.6L1156.4,2043.7L1206.6,2043.8L1256.9,2043.9L1307.2,2044.0L1357.5,2044.2L1407.7,2044.3L1458.0,2044.4L1508.3,2044.5L1558.6,2044.6L1608.9,2044.7L1659.1,2044.8L1709.4,2044.9L1759.7,2045.0L1810.0,2045.1L1860.2,2045.2L1910.5,2045.4L1960.8,2045.5L2011.1,2045.6L2061.3,2045.7L2111.6,2045.8L2161.9,2045.9L2212.2,2046.0L2262.4,2046.1L2312.7,2046.2L2363.0,2046.3M0.0,2100.7L50.3,2100.8L100.6,2100.9L150.8,2101.0L201.1,2101.1L251.4,2101.2L301.7,2101.4L351.9,2101.5L402.2,2101.6L452.5,2101.7L502.8,2101.8L553.0,2101.9L603.3,2102.0L653.6,2102.1L703.9,2102.2L754.1,2102.3L804.4,2102.4L854.7,2102.5L905.0,2102.7L955.3,2102.8L1005.5,2102.9L1055.8,2103.0L1106.1,2103.1L1156.4,2103.2L1206.6,2103.3L1256.9,2103.4L1307.2,2103.5L1357.5,2103.6L1407.7,2103.7L1458.0,2103.8L1508.3,2104.0L1558.6,2104.1L1608.9,2104.2L1659.1,2104.3L1709.4,2104.4L1759.7,2104.5L1810.0,2104.6L1860.2,2104.7L1910.5,2104.8L1960.8,2104.9L2011.1,2105.0L2061.3,2105.1L2111.6,2105.2L2161.9,2105.4L2212.2,2105.5L2262.4,2105.6L2312.7,2105.7L2363.0,2105.8M0.0,2160.2L50.3,2160.3L100.6,2160.4L150.8,2160.5L201.1,2160.6L251.4,2160.7L301.7,2160.8L351.9,2160.9L402.2,2161.1L452.5,2161.2L502.8,2161.3L553.0,2161.4L603.3,2161.5L653.6,2161.6L703.9,2161.7L754.1,2161.8L804.4,2161.9L854.7,2162.0L905.0,2162.1L955.3,2162.2L1005.5,2162.3L1055.8,2162.4L1106.1,2162.6L1156.4,2162.7L1206.6,2162.8L1256.9,2162.9L1307.2,2163.0L1357.5,2163.1L1407.7,2163.2L1458.0,2163.3L1508.3,2163.4L1558.6,2163.5L1608.9,2163.6L1659.1,2163.7L1709.4,2163.8L1759.7,2164.0L1810.0,2164.1L1860.2,2164.2L1910.5,2164.3L1960.8,2164.4L2011.1,2164.5L2061.3,2164.6L2111.6,2164.7L2161.9,2164.8L2212.2,2164.9L2262.4,2165.0L2312.7,2165.1L2363.0,2165.2M0.0,2219.7L50.3,2219.8L100.6,2219.9L150.8,2220.0L201.1,2220.1L251.4,2220.2L301.7,2220.3L351.9,2220.4L402.2,2220.5L452.5,2220.6L502.8,2220.7L553.0,2220.9L603.3,2221.0L653.6,2221.1L703.9,2221.2L754.1,2221.3L804.4,2221.4L854.7,2221.5L905.0,2221.6L955.3,2221.7L1005.5,2221.8L1055.8,2221.9L1106.1,2222.0L1156.4,2222.1L1206.6,2222.2L1256.9,2222.4L1307.2,2222.5L1357.5,2222.6L1407.7,2222.7L1458.0,2222.8L1508.3,2222.9L1558.6,2223.0L1608.9,2223.1L1659.1,2223.2L1709.4,2223.3L1759.7,2223.4L1810.0,2223.5L1860.2,2223.6L1910.5,2223.7L1960.8,2223.8L2011.1,2224.0L2061.3,2224.1L2111.6,2224.2L2161.9,2224.3L2212.2,2224.4L2262.4,2224.5L2312.7,2224.6L2363.0,2224.7M0.0,2279.2L50.3,2279.3L100.6,2279.4L150.8,2279.5L201.1,2279.6L251.4,2279.7L301.7,2279.8L351.9,2279.9L402.2,2280.0L452.5,2280.1L502.8,2280.2L553.0,2280.3L603.3,2280.4L653.6,2280.5L703.9,2280.7L754.1,2280.8L804.4,2280.9L854.7,2281.0L905.0,2281.1L955.3,2281.2L1005.5,2281.3L1055.8,2281.4L1106.1,2281.5L1156.4,2281.6L1206.6,2281.7L1256.9,2281.8L1307.2,2281.9L1357.5,2282.0L1407.7,2282.1L1458.0,2282.2L1508.3,2282.4L1558.6,2282.5L1608.9,2282.6L1659.1,2282.7L1709.4,2282.8L1759.7,2282.9L1810.0,2283.0L1860.2,2283.1L1910.5,2283.2L1960.8,2283.3L2011.1,2283.4L2061.3,2283.5L2111.6,2283.6L2161.9,2283.7L2212.2,2283.8L2262.4,2283.9L2312.7,2284.1L2363.0,2284.2M0.0,2338.3L50.3,2338.4L100.6,2338.5L150.8,2338.6L201.1,2338.7L251.4,2338.8L301.7,2339.0L351.9,2339.1L402.2,2339.2L452.5,2339.3L502.8,2339.4L553.0,2339.5L603.3,2339.6L653.6,2339.7L703.9,2339.8L754.1,2339.9L804.4,2340.0L854.7,2340.1L905.0,2340.2L955.3,2340.3L1005.5,2340.4L1055.8,2340.5L1106.1,2340.6L1156.4,2340.7L1206.6,2340.9L1256.9,2341.0L1307.2,2341.1L1357.5,2341.2L1407.7,2341.3L1458.0,2341.4L1508.3,2341.5L1558.6,2341.6L1608.9,2341.7L1659.1,2341.8L1709.4,2341.9L1759.7,2342.0L1810.0,2342.1L1860.2,2342.2L1910.5,2342.3L1960.8,2342.4L2011.1,2342.5L2061.3,2342.6L2111.6,2342.8L2161.9,2342.9L2212.2,2343.0L2262.4,2343.1L2312.7,2343.2L2363.0,2343.3M0.0,2397.5L50.3,2397.6L100.6,2397.7L150.8,2397.8L201.1,2397.9L251.4,2398.0L301.7,2398.1L351.9,2398.2L402.2,2398.3L452.5,2398.4L502.8,2398.5L553.0,2398.6L603.3,2398.7L653.6,2398.8L703.9,2398.9L754.1,2399.0L804.4,2399.1L854.7,2399.2L905.0,2399.4L955.3,2399.5L1005.5,2399.6L1055.8,2399.7L1106.1,2399.8L1156.4,2399.9L1206.6,2400.0L1256.9,2400.1L1307.2,2400.2L1357.5,2400.3L1407.7,2400.4L1458.0,2400.5L1508.3,2400.6L1558.6,2400.7L1608.9,2400.8L1659.1,2400.9L1709.4,2401.0L1759.7,2401.1L1810.0,2401.2L1860.2,2401.3L1910.5,2401.4L1960.8,2401.5L2011.1,2401.6L2061.3,2401.7L2111.6,2401.8L2161.9,2402.0L2212.2,2402.1L2262.4,2402.2L2312.7,2402.3L2363.0,2402.4M0.0,2456.6L50.3,2456.7L100.6,2456.8L150.8,2456.9L201.1,2457.0L251.4,2457.2L301.7,2457.3L351.9,2457.4L402.2,2457.5L452.5,2457.6L502.8,2457.7L553.0,2457.8L603.3,2457.9L653.6,2458.0L703.9,2458.1L754.1,2458.2L804.4,2458.3L854.7,2458.4L905.0,2458.5L955.3,2458.6L1005.5,2458.7L1055.8,2458.8L1106.1,2458.9L1156.4,2459.0L1206.6,2459.1L1256.9,2459.2L1307.2,2459.3L1357.5,2459.4L1407.7,2459.5L1458.0,2459.6L1508.3,2459.7L1558.6,2459.8L1608.9,2459.9L1659.1,2460.0L1709.4,2460.1L1759.7,2460.2L1810.0,2460.3L1860.2,2460.4L1910.5,2460.5L1960.8,2460.6L2011.1,2460.7L2061.3,2460.8L2111.6,2460.9L2161.9,2461.0L2212.2,2461.1L2262.4,2461.2L2312.7,2461.3L2363.0,2461.5M0.0,2515.8L50.3,2515.9L100.6,2516.0L150.8,2516.1L201.1,2516.2L251.4,2516.3L301.7,2516.4L351.9,2516.5L402.2,2516.6L452.5,2516.7L502.8,2516.8L553.0,2516.9L603.3,2517.0L653.6,2517.1L703.9,2517.2L754.1,2517.3L804.4,2517.4L854.7,2517.5L905.0,2517.6L955.3,2517.7L1005.5,2517.8L1055.8,2517.9L1106.1,2518.0L1156.4,2518.1L1206.6,2518.2L1256.9,2518.3L1307.2,2518.4L1357.5,2518.5L1407.7,2518.6L1458.0,2518.7L1508.3,2518.8L1558.6,2518.9L1608.9,2519.0L1659.1,2519.1L1709.4,2519.2L1759.7,2519.3L1810.0,2519.4L1860.2,2519.5L1910.5,2519.6L1960.8,2519.7L2011.1,2519.8L2061.3,2519.9L2111.6,2520.0L2161.9,2520.1L2212.2,2520.2L2262.4,2520.3L2312.7,2520.4L2363.0,2520.5M0.0,2575.0L50.3,2575.1L100.6,2575.2L150.8,2575.3L201.1,2575.4L251.4,2575.5L301.7,2575.6L351.9,2575.7L402.2,2575.8L452.5,2575.9L502.8,2576.0L553.0,2576.0L603.3,2576.1L653.6,2576.2L703.9,2576.3L754.1,2576.4L804.4,2576.5L854.7,2576.6L905.0,2576.7L955.3,2576.8L1005.5,2576.9L1055.8,2577.0L1106.1,2577.1L1156.4,2577.2L1206.6,2577.3L1256.9,2577.4L1307.2,2577.5L1357.5,2577.6L1407.7,2577.7L1458.0,2577.8L1508.3,2577.9L1558.6,2578.0L1608.9,2578.1L1659.1,2578.2L1709.4,2578.3L1759.7,2578.4L1810.0,2578.5L1860.2,2578.6L1910.5,2578.7L1960.8,2578.8L2011.1,2578.9L2061.3,2579.0L2111.6,2579.1L2161.9,2579.2L2212.2,2579.3L2262.4,2579.4L2312.7,2579.5L2363.0,2579.6M0.0,2634.1L50.3,2634.2L100.6,2634.3L150.8,2634.4L201.1,2634.5L251.4,2634.6L301.7,2634.7L351.9,2634.8L402.2,2634.9L452.5,2635.0L502.8,2635.1L553.0,2635.2L603.3,2635.3L653.6,2635.4L703.9,2635.5L754.1,2635.6L804.4,2635.7L854.7,2635.8L905.0,2635.9L955.3,2636.0L1005.5,2636.1L1055.8,2636.2L1106.1,2636.3L1156.4,2636.4L1206.6,2636.5L1256.9,2636.6L1307.2,2636.7L1357.5,2636.8L1407.7,2636.9L1458.0,2636.9L1508.3,2637.0L1558.6,2637.1L1608.9,2637.2L1659.1,2637.3L1709.4,2637.4L1759.7,2637.5L1810.0,2637.6L1860.2,2637.7L1910.5,2637.8L1960.8,2637.9L2011.1,2638.0L2061.3,2638.1L2111.6,2638.2L2161.9,2638.3L2212.2,2638.4L2262.4,2638.5L2312.7,2638.6L2363.0,2638.7M0.0,2693.3L50.3,2693.4L100.6,2693.5L150.8,2693.6L201.1,2693.7L251.4,2693.8L301.7,2693.9L351.9,2693.9L402.2,2694.0L452.5,2694.1L502.8,2694.2L553.0,2694.3L603.3,2694.4L653.6,2694.5L703.9,2694.6L754.1,2694.7L804.4,2694.8L854.7,2694.9L905.0,2695.0L955.3,2695.1L1005.5,2695.2L1055.8,2695.3L1106.1,2695.4L1156.4,2695.5L1206.6,2695.6L1256.9,2695.7L1307.2,2695.8L1357.5,2695.9L1407.7,2696.0L1458.0,2696.1L1508.3,2696.2L1558.6,2696.3L1608.9,2696.4L1659.1,2696.4L1709.4,2696.5L1759.7,2696.6L1810.0,2696.7L1860.2,2696.8L1910.5,2696.9L1960.8,2697.0L2011.1,2697.1L2061.3,2697.2L2111.6,2697.3L2161.9,2697.4L2212.2,2697.5L2262.4,2697.6L2312.7,2697.7L2363.0,2697.8M0.0,2752.4L50.3,2752.5L100.6,2752.6L150.8,2752.7L201.1,2752.8L251.4,2752.9L301.7,2753.0L351.9,2753.1L402.2,2753.2L452.5,2753.3L502.8,2753.4L553.0,2753.5L603.3,2753.6L653.6,2753.7L703.9,2753.8L754.1,2753.9L804.4,2753.9L854.7,2754.0L905.0,2754.1L955.3,2754.2L1005.5,2754.3L1055.8,2754.4L1106.1,2754.5L1156.4,2754.6L1206.6,2754.7L1256.9,2754.8L1307.2,2754.9L1357.5,2755.0L1407.7,2755.1L1458.0,2755.2L1508.3,2755.3L1558.6,2755.4L1608.9,2755.5L1659.1,2755.6L1709.4,2755.6L1759.7,2755.7L1810.0,2755.8L1860.2,2755.9L1910.5,2756.0L1960.8,2756.1L2011.1,2756.2L2061.3,2756.3L2111.6,2756.4L2161.9,2756.5L2212.2,2756.6L2262.4,2756.7L2312.7,2756.8L2363.0,2756.9M0.0,2811.4L50.3,2811.5L100.6,2811.7L150.8,2811.8L201.1,2811.9L251.4,2812.1L301.7,2812.2L351.9,2812.2L402.2,2812.3L452.5,2812.4L502.8,2812.5L553.0,2812.6L603.3,2812.7L653.6,2812.8L703.9,2812.9L754.1,2813.0L804.4,2813.1L854.7,2813.2L905.0,2813.3L955.3,2813.4L1005.5,2813.5L1055.8,2813.5L1106.1,2813.6L1156.4,2813.7L1206.6,2813.8L1256.9,2813.9L1307.2,2814.0L1357.5,2814.1L1407.7,2814.2L1458.0,2814.3L1508.3,2814.4L1558.6,2814.5L1608.9,2814.6L1659.1,2814.7L1709.4,2814.8L1759.7,2814.8L1810.0,2814.9L1860.2,2815.0L1910.5,2815.1L1960.8,2815.2L2011.1,2815.3L2061.3,2815.4L2111.6,2815.5L2161.9,2815.6L2212.2,2815.7L2262.4,2815.8L2312.7,2815.9L2363.0,2816.0M0.0,2870.1L50.3,2870.4L100.6,2870.7L150.8,2870.9L201.1,2871.1L251.4,2871.2L301.7,2871.3L351.9,2871.4L402.2,2871.5L452.5,2871.6L502.8,2871.7L553.0,2871.8L603.3,2871.9L653.6,2871.9L703.9,2872.0L754.1,2872.1L804.4,2872.2L854.7,2872.3L905.0,2872.4L955.3,2872.5L1005.5,2872.6L1055.8,2872.7L1106.1,2872.8L1156.4,2872.9L1206.6,2872.9L1256.9,2873.0L1307.2,2873.1L1357.5,2873.2L1407.7,2873.3L1458.0,2873.4L1508.3,2873.5L1558.6,2873.6L1608.9,2873.7L1659.1,2873.8L1709.4,2873.9L1759.7,2874.0L1810.0,2874.0L1860.2,2874.1L1910.5,2874.2L1960.8,2874.3L2011.1,2874.4L2061.3,2874.5L2111.6,2874.6L2161.9,2874.7L2212.2,2874.8L2262.4,2874.9L2312.7,2875.0L2363.0,2875.0M0.0,2928.7L50.3,2929.2L100.6,2929.6L150.8,2929.9L201.1,2930.1L251.4,2930.3L301.7,2930.5L351.9,2930.5L402.2,2930.6L452.5,2930.7L502.8,2930.8L553.0,2930.9L603.3,2931.0L653.6,2931.1L703.9,2931.2L754.1,2931.3L804.4,2931.4L854.7,2931.4L905.0,2931.5L955.3,2931.6L1005.5,2931.7L1055.8,2931.8L1106.1,2931.9L1156.4,2932.0L1206.6,2932.1L1256.9,2932.2L1307.2,2932.2L1357.5,2932.3L1407.7,2932.4L1458.0,2932.5L1508.3,2932.6L1558.6,2932.7L1608.9,2932.8L1659.1,2932.9L1709.4,2933.0L1759.7,2933.1L1810.0,2933.1L1860.2,2933.2L1910.5,2933.3L1960.8,2933.4L2011.1,2933.5L2061.3,2933.6L2111.6,2933.7L2161.9,2933.8L2212.2,2933.9L2262.4,2934.0L2312.7,2934.0L2363.0,2934.1M0.0,2987.2L50.3,2987.9L100.6,2988.4L150.8,2988.9L201.1,2989.2L251.4,2989.5L301.7,2989.6L351.9,2989.7L402.2,2989.8L452.5,2989.9L502.8,2990.0L553.0,2990.0L603.3,2990.1L653.6,2990.2L703.9,2990.3L754.1,2990.4L804.4,2990.5L854.7,2990.6L905.0,2990.7L955.3,2990.7L1005.5,2990.8L1055.8,2990.9L1106.1,2991.0L1156.4,2991.1L1206.6,2991.2L1256.9,2991.3L1307.2,2991.4L1357.5,2991.5L1407.7,2991.5L1458.0,2991.6L1508.3,2991.7L1558.6,2991.8L1608.9,2991.9L1659.1,2992.0L1709.4,2992.1L1759.7,2992.2L1810.0,2992.2L1860.2,2992.3L1910.5,2992.4L1960.8,2992.5L2011.1,2992.6L2061.3,2992.7L2111.6,2992.8L2161.9,2992.9L2212.2,2993.0L2262.4,2993.0L2312.7,2993.1L2363.0,2993.2M0.0,3045.7L50.3,3046.5L100.6,3047.3L150.8,3047.9L201.1,3048.3L251.4,3048.6L301.7,3048.8L351.9,3048.8L402.2,3048.9L452.5,3049.0L502.8,3049.1L553.0,3049.2L603.3,3049.3L653.6,3049.4L703.9,3049.4L754.1,3049.5L804.4,3049.6L854.7,3049.7L905.0,3049.8L955.3,3049.9L1005.5,3050.0L1055.8,3050.1L1106.1,3050.1L1156.4,3050.2L1206.6,3050.3L1256.9,3050.4L1307.2,3050.5L1357.5,3050.6L1407.7,3050.7L1458.0,3050.7L1508.3,3050.8L1558.6,3050.9L1608.9,3051.0L1659.1,3051.1L1709.4,3051.2L1759.7,3051.3L1810.0,3051.3L1860.2,3051.4L1910.5,3051.5L1960.8,3051.6L2011.1,3051.7L2061.3,3051.8L2111.6,3051.9L2161.9,3052.0L2212.2,3052.0L2262.4,3052.1L2312.7,3052.2L2363.0,3052.3M0.0,3104.0L50.3,3105.2L100.6,3106.1L150.8,3106.8L201.1,3107.4L251.4,3107.7L301.7,3107.9L351.9,3108.0L402.2,3108.1L452.5,3108.2L502.8,3108.2L553.0,3108.3L603.3,3108.4L653.6,3108.5L703.9,3108.6L754.1,3108.7L804.4,3108.8L854.7,3108.8L905.0,3108.9L955.3,3109.0L1005.5,3109.1L1055.8,3109.2L1106.1,3109.3L1156.4,3109.3L1206.6,3109.4L1256.9,3109.5L1307.2,3109.6L1357.5,3109.7L1407.7,3109.8L1458.0,3109.9L1508.3,3109.9L1558.6,3110.0L1608.9,3110.1L1659.1,3110.2L1709.4,3110.3L1759.7,3110.4L1810.0,3110.5L1860.2,3110.5L1910.5,3110.6L1960.8,3110.7L2011.1,3110.8L2061.3,3110.9L2111.6,3111.0L2161.9,3111.0L2212.2,3111.1L2262.4,3111.2L2312.7,3111.3L2363.0,3111.4M0.0,3162.3L50.3,3163.7L100.6,3164.8L150.8,3165.8L201.1,3166.4L251.4,3166.9L301.7,3167.1L351.9,3167.1L402.2,3167.2L452.5,3167.3L502.8,3167.4L553.0,3167.5L603.3,3167.6L653.6,3167.6L703.9,3167.7L754.1,3167.8L804.4,3167.9L854.7,3168.0L905.0,3168.1L955.3,3168.1L1005.5,3168.2L1055.8,3168.3L1106.1,3168.4L1156.4,3168.5L1206.6,3168.6L1256.9,3168.6L1307.2,3168.7L1357.5,3168.8L1407.7,3168.9L1458.0,3169.0L1508.3,3169.1L1558.6,3169.1L1608.9,3169.2L1659.1,3169.3L1709.4,3169.4L1759.7,3169.5L1810.0,3169.6L1860.2,3169.6L1910.5,3169.7L1960.8,3169.8L2011.1,3169.9L2061.3,3170.0L2111.6,3170.1L2161.9,3170.1L2212.2,3170.2L2262.4,3170.3L2312.7,3170.4L2363.0,3170.5M0.0,3220.5L50.3,3222.2L100.6,3223.6L150.8,3224.7L201.1,3225.5L251.4,3226.0L301.7,3226.2L351.9,3226.3L402.2,3226.4L452.5,3226.4L502.8,3226.5L553.0,3226.6L603.3,3226.7L653.6,3226.8L703.9,3226.9L754.1,3226.9L804.4,3227.0L854.7,3227.1L905.0,3227.2L955.3,3227.3L1005.5,3227.3L1055.8,3227.4L1106.1,3227.5L1156.4,3227.6L1206.6,3227.7L1256.9,3227.8L1307.2,3227.8L1357.5,3227.9L1407.7,3228.0L1458.0,3228.1L1508.3,3228.2L1558.6,3228.2L1608.9,3228.3L1659.1,3228.4L1709.4,3228.5L1759.7,3228.6L1810.0,3228.7L1860.2,3228.7L1910.5,3228.8L1960.8,3228.9L2011.1,3229.0L2061.3,3229.1L2111.6,3229.1L2161.9,3229.2L2212.2,3229.3L2262.4,3229.4L2312.7,3229.5L2363.0,3229.6M0.0,3278.7L50.3,3280.7L100.6,3282.3L150.8,3283.6L201.1,3284.5L251.4,3285.1L301.7,3285.4L351.9,3285.4L402.2,3285.5L452.5,3285.6L502.8,3285.7L553.0,3285.8L603.3,3285.8L653.6,3285.9L703.9,3286.0L754.1,3286.1L804.4,3286.2L854.7,3286.2L905.0,3286.3L955.3,3286.4L1005.5,3286.5L1055.8,3286.6L1106.1,3286.6L1156.4,3286.7L1206.6,3286.8L1256.9,3286.9L1307.2,3287.0L1357.5,3287.0L1407.7,3287.1L1458.0,3287.2L1508.3,3287.3L1558.6,3287.4L1608.9,3287.4L1659.1,3287.5L1709.4,3287.6L1759.7,3287.7L1810.0,3287.8L1860.2,3287.8L1910.5,3287.9L1960.8,3288.0L2011.1,3288.1L2061.3,3288.2L2111.6,3288.2L2161.9,3288.3L2212.2,3288.4L2262.4,3288.5L2312.7,3288.6L2363.0,3288.6M0.0,3336.8L50.3,3339.1L100.6,3341.0L150.8,3342.5L201.1,3343.6L251.4,3344.2L301.7,3344.5L351.9,3344.6L402.2,3344.7L452.5,3344.7L502.8,3344.8L553.0,3344.9L603.3,3345.0L653.6,3345.1L703.9,3345.1L754.1,3345.2L804.4,3345.3L854.7,3345.4L905.0,3345.4L955.3,3345.5L1005.5,3345.6L1055.8,3345.7L1106.1,3345.8L1156.4,3345.8L1206.6,3345.9L1256.9,3346.0L1307.2,3346.1L1357.5,3346.2L1407.7,3346.2L1458.0,3346.3L1508.3,3346.4L1558.6,3346.5L1608.9,3346.5L1659.1,3346.6L1709.4,3346.7L1759.7,3346.8L1810.0,3346.9L1860.2,3346.9L1910.5,3347.0L1960.8,3347.1L2011.1,3347.2L2061.3,3347.3L2111.6,3347.3L2161.9,3347.4L2212.2,3347.5L2262.4,3347.6L2312.7,3347.6L2363.0,3347.7M0.0,3394.9L50.3,3397.5L100.6,3399.7L150.8,3401.4L201.1,3402.6L251.4,3403.4L301.7,3403.7L351.9,3403.7L402.2,3403.8L452.5,3403.9L502.8,3404.0L553.0,3404.0L603.3,3404.1L653.6,3404.2L703.9,3404.3L754.1,3404.3L804.4,3404.4L854.7,3404.5L905.0,3404.6L955.3,3404.7L1005.5,3404.7L1055.8,3404.8L1106.1,3404.9L1156.4,3405.0L1206.6,3405.0L1256.9,3405.1L1307.2,3405.2L1357.5,3405.3L1407.7,3405.3L1458.0,3405.4L1508.3,3405.5L1558.6,3405.6L1608.9,3405.7L1659.1,3405.7L1709.4,3405.8L1759.7,3405.9L1810.0,3406.0L1860.2,3406.0L1910.5,3406.1L1960.8,3406.2L2011.1,3406.3L2061.3,3406.3L2111.6,3406.4L2161.9,3406.5L2212.2,3406.6L2262.4,3406.7L2312.7,3406.7L2363.0,3406.8M0.0,3452.9L50.3,3455.8L100.6,3458.3L150.8,3460.2L201.1,3461.6L251.4,3462.5L301.7,3462.8L351.9,3462.9L402.2,3463.0L452.5,3463.0L502.8,3463.1L553.0,3463.2L603.3,3463.3L653.6,3463.3L703.9,3463.4L754.1,3463.5L804.4,3463.6L854.7,3463.6L905.0,3463.7L955.3,3463.8L1005.5,3463.9L1055.8,3463.9L1106.1,3464.0L1156.4,3464.1L1206.6,3464.2L1256.9,3464.2L1307.2,3464.3L1357.5,3464.4L1407.7,3464.5L1458.0,3464.5L1508.3,3464.6L1558.6,3464.7L1608.9,3464.8L1659.1,3464.8L1709.4,3464.9L1759.7,3465.0L1810.0,3465.1L1860.2,3465.1L1910.5,3465.2L1960.8,3465.3L2011.1,3465.4L2061.3,3465.4L2111.6,3465.5L2161.9,3465.6L2212.2,3465.7L2262.4,3465.7L2312.7,3465.8L2363.0,3465.9" stroke="#9e9ce0" stroke-width="1.45" fill="none"/>
<rect x="2363" y="0" width="32" height="3507" fill="#fdfdfc"/>
<path d="M2363.5,60 L2363.5,3440" stroke="#c9c9c9" stroke-width="1.3" stroke-dasharray="6 14" fill="none"/>
<path d="M2326,12 C2350,35 2372,55 2375,90 L2376,3420 C2372,3455 2345,3480 2318,3494" stroke="#d6d6d2" stroke-width="6" fill="none"/>
<path d="M2352.7,11.4 L2382.9,11.4 L2382.9,43 C2375,30 2365,20 2352.7,11.4 Z" fill="#b4b4ae"/>
<path d="M2374,85.7L2383,85.7M2374,145.1L2383,145.1M2374,204.5L2383,204.5M2374,264.0L2383,264.0M2374,323.4L2383,323.4M2374,382.8L2383,382.8M2374,442.3L2383,442.3M2374,501.7L2383,501.7M2374,561.1L2383,561.1M2374,620.5L2383,620.5M2374,680.0L2383,680.0M2374,739.4L2383,739.4M2374,798.8L2383,798.8M2374,858.3L2383,858.3M2374,917.7L2383,917.7M2374,977.1L2383,977.1M2374,1036.5L2383,1036.5M2374,1096.0L2383,1096.0M2374,1155.4L2383,1155.4M2374,1214.9L2383,1214.9M2374,1274.3L2383,1274.3M2374,1333.8L2383,1333.8M2374,1393.2L2383,1393.2M2374,1452.7L2383,1452.7M2374,1512.1L2383,1512.1M2374,1571.6L2383,1571.6M2374,1631.1L2383,1631.1M2374,1690.5L2383,1690.5M2374,1750.0L2383,1750.0M2374,1809.4L2383,1809.4M2374,1868.9L2383,1868.9M2374,1928.3L2383,1928.3M2374,1987.8L2383,1987.8M2374,2047.2L2383,2047.2M2374,2106.7L2383,2106.7M2374,2166.2L2383,2166.2M2374,2225.6L2383,2225.6M2374,2285.1L2383,2285.1M2374,2344.2L2383,2344.2M2374,2403.3L2383,2403.3M2374,2462.4L2383,2462.4M2374,2521.5L2383,2521.5M2374,2580.5L2383,2580.5M2374,2639.6L2383,2639.6M2374,2698.7L2383,2698.7M2374,2757.8L2383,2757.8M2374,2816.9L2383,2816.9M2374,2876.0L2383,2876.0M2374,2935.1L2383,2935.1M2374,2994.1L2383,2994.1M2374,3053.2L2383,3053.2M2374,3112.3L2383,3112.3M2374,3171.4L2383,3171.4M2374,3230.5L2383,3230.5M2374,3289.6L2383,3289.6M2374,3348.7L2383,3348.7M2374,3407.7L2383,3407.7M2374,3466.8L2383,3466.8" stroke="#a8a8dc" stroke-width="1.6" fill="none"/>
<path d="M2317.7,3494.8 C2335,3488 2352,3478 2365,3464 C2374,3454 2379,3448 2382.9,3441.9 L2382.9,3494.8 Z" fill="#3c3c39"/>
<rect x="2375" y="3452" width="8" height="43" fill="#202020"/>
<rect x="0" y="3495" width="2395" height="12" fill="#ffffff"/>
<polygon points="455.0,497.0 1834.0,817.0 1819.0,887.0 460.0,585.0" fill="#4578d2" stroke="none" stroke-width="0" stroke-linejoin="round" fill-opacity="0.92"/>
<polygon points="455.0,492.5 538.0,493.5 538.8,516.0 455.0,497.0" fill="#ffffff" stroke="none" stroke-width="0" stroke-linejoin="round" />
<polyline points="455.0,492.5 538.0,493.5 538.8,516.0" fill="none" stroke="#333333" stroke-width="6" stroke-linejoin="round" stroke-linecap="round" />
<polyline points="532.0,505.0 532.0,598.0" fill="none" stroke="#8a8a8a" stroke-width="3" stroke-linejoin="round" stroke-linecap="round" />
<polyline points="455.0,497.0 1834.0,817.0" fill="none" stroke="#333333" stroke-width="6.5" stroke-linejoin="round" stroke-linecap="round" />
<polyline points="460.0,585.0 592.0,613.0" fill="none" stroke="#333333" stroke-width="6.5" stroke-linejoin="round" stroke-linecap="round" />
<polyline points="906.0,683.0 1819.0,887.0" fill="none" stroke="#333333" stroke-width="6.5" stroke-linejoin="round" stroke-linecap="round" />
<polyline points="454.5,492.0 454.0,618.0" fill="none" stroke="#333333" stroke-width="6.5" stroke-linejoin="round" stroke-linecap="round" />
<polyline points="530.5,598.0 530.5,616.0" fill="none" stroke="#333333" stroke-width="5" stroke-linejoin="round" stroke-linecap="round" />
<polygon points="258.0,660.0 330.0,657.0 332.0,676.0 311.0,677.0 312.0,701.0 433.0,700.0 432.0,679.0 400.0,676.0 399.0,657.0 460.0,657.0 460.0,692.0 552.0,692.0 552.0,785.0 334.0,797.0 255.0,727.0" fill="#f2cbe2" stroke="none" stroke-width="0" stroke-linejoin="round" fill-opacity="0.92"/>
<path d="M327,583 C340,572 360,575 372,580 C385,574 395,578 401,582 L401,676 L428,684 L428,694 L318,694 L318,684 L336,676 Z" fill="#9a9a9a" stroke="none" stroke-width="6" stroke-linejoin="round" stroke-linecap="round" fill-opacity="0.85"/>
<path d="M332,600 L352,578 M334,640 L372,585 M338,672 L396,590 M350,690 L400,625 M372,692 L401,655 M400,692 L420,686 M322,692 L345,680" fill="none" stroke="#6e6e6e" stroke-width="3" stroke-linejoin="round" stroke-linecap="round" />
<polyline points="258.0,660.0 330.0,657.0 332.0,676.0 311.0,677.0 312.0,701.0 433.0,700.0 432.0,679.0 400.0,676.0 399.0,657.0 458.0,657.0" fill="none" stroke="#333333" stroke-width="6.5" stroke-linejoin="round" stroke-linecap="round" />
<polyline points="258.0,660.0 255.0,727.0" fill="none" stroke="#333333" stroke-width="6.5" stroke-linejoin="round" stroke-linecap="round" />
<polyline points="255.0,727.0 334.0,797.0" fill="none" stroke="#8c8c8c" stroke-width="3.5" stroke-linejoin="round" stroke-linecap="round" />
<polyline points="334.0,797.0 550.0,785.0 552.0,700.0" fill="none" stroke="#333333" stroke-width="6.5" stroke-linejoin="round" stroke-linecap="round" />
<polygon points="458.0,618.0 906.0,615.0 906.0,688.0 460.0,692.0" fill="#ffffff" stroke="none" stroke-width="0" stroke-linejoin="round" />
<polygon points="458.0,618.0 906.0,615.0 906.0,688.0 460.0,692.0" fill="#f2cbe2" stroke="none" stroke-width="0" stroke-linejoin="round" fill-opacity="0.92"/>
<polygon points="458.0,618.0 906.0,615.0 906.0,688.0 460.0,692.0" fill="none" stroke="#333333" stroke-width="6.5" stroke-linejoin="round" />
<polygon points="449.0,795.0 536.7,792.0 536.7,810.6 453.2,812.8" fill="#ffffff" stroke="#333333" stroke-width="5.5" stroke-linejoin="round" />
<circle cx="491.7" cy="745.3" r="22.0" fill="#9a9a9a" stroke="none" stroke-width="0" opacity="0.35"/>
<circle cx="496.0" cy="548.2" r="9.6" fill="#222" stroke="none" stroke-width="0" />
<circle cx="491.7" cy="745.3" r="10.7" fill="#222" stroke="none" stroke-width="0" />
<polygon points="2049.3,326.0 2137.5,351.7 2028.0,720.0 1940.0,698.0" fill="#8e6ac6" stroke="#333333" stroke-width="6.5" stroke-linejoin="round" fill-opacity="0.92"/>
<polygon points="2065.0,208.4 2192.7,247.7 2159.6,350.1 2027.3,312.3" fill="#eeaa5a" stroke="#333333" stroke-width="6.5" stroke-linejoin="round" />
<polygon points="2080.8,227.3 2175.3,255.6 2147.0,334.4 2049.3,306.0" fill="#c63a72" stroke="#333333" stroke-width="5.5" stroke-linejoin="round" />
<polygon points="2096.6,249.3 2154.9,266.6 2133.0,314.0 2076.0,293.4" fill="#ffffff" stroke="#333333" stroke-width="5.5" stroke-linejoin="round" />
<polygon points="1925.8,698.4 2030.7,721.1 1993.8,847.3 1886.1,827.4" fill="#3f9a66" stroke="#333333" stroke-width="6.5" stroke-linejoin="round" fill-opacity="0.92"/>
<polygon points="1884.0,950.0 1933.0,967.0 1834.5,1320.0 1760.0,1358.0 1749.0,1330.0 1787.0,1302.0" fill="#f4df55" stroke="#333333" stroke-width="6.5" stroke-linejoin="round" fill-opacity="0.92"/>
<polygon points="1833.6,817.5 1897.4,833.1 1874.8,906.8 1816.6,889.8" fill="#ef8a90" stroke="#333333" stroke-width="6.5" stroke-linejoin="round" fill-opacity="0.92"/>
<polygon points="1979.7,850.1 2022.2,861.5 1999.5,933.8 1958.4,923.8" fill="#ef8a90" stroke="#333333" stroke-width="6.5" stroke-linejoin="round" fill-opacity="0.92"/>
<polygon points="2022.2,867.1 2046.3,875.6 2032.1,936.6 2006.6,929.5" fill="#3a6fd0" stroke="#333333" stroke-width="6.5" stroke-linejoin="round" fill-opacity="0.92"/>
<polygon points="1921.5,782.1 1988.2,804.8 1938.5,982.0 1862.0,957.9" fill="#3f9c9a" stroke="#333333" stroke-width="6.5" stroke-linejoin="round" fill-opacity="0.92"/>
<circle cx="1734.0" cy="1349.7" r="20.0" fill="#ffffff" stroke="#333333" stroke-width="6" />
<path d="M1812,1203 C1770,1190 1700,1188 1655,1212 C1608,1240 1592,1290 1593,1340 C1594,1420 1602,1482 1650,1518 C1690,1546 1742,1546 1792,1520 C1842,1492 1870,1442 1876,1392 C1881,1342 1880,1292 1850,1266" fill="none" stroke="#333333" stroke-width="6.5" stroke-linejoin="round" stroke-linecap="round" />
<path d="M2295,1084 A286.4,286.4 0 1 0 2228.4,1649 C2280,1650 2325,1646 2361,1637.5" fill="none" stroke="#333333" stroke-width="6.5" stroke-linejoin="round" stroke-linecap="round" />
<path d="M2297,1085 C2320,1088 2340,1092 2352,1100" fill="none" stroke="#9a9a9a" stroke-width="2.5" stroke-linejoin="round" stroke-linecap="round" />
<circle cx="2213.5" cy="1361.0" r="42.0" fill="none" stroke="#333333" stroke-width="6.5" />
<polyline points="2203.0,1323.0 2316.0,1056.0" fill="none" stroke="#333333" stroke-width="7" stroke-linejoin="round" stroke-linecap="round" />
<polyline points="2251.0,1333.0 2362.0,1088.0" fill="none" stroke="#333333" stroke-width="7" stroke-linejoin="round" stroke-linecap="round" />
<polyline points="2362.0,1025.5 2206.0,1026.0 2206.0,1048.0 2362.0,1047.0" fill="none" stroke="#333333" stroke-width="8" stroke-linejoin="round" stroke-linecap="round" />
<polyline points="2024.0,318.0 1856.0,833.0" fill="none" stroke="#6e6e6e" stroke-width="3.5" stroke-linejoin="round" stroke-linecap="round" /><polyline points="1874.7,815.0 1856.0,833.0 1851.5,807.4" fill="none" stroke="#6e6e6e" stroke-width="3.5" stroke-linejoin="round" stroke-linecap="round" /><polyline points="2005.3,336.0 2024.0,318.0 2028.5,343.6" fill="none" stroke="#6e6e6e" stroke-width="3.5" stroke-linejoin="round" stroke-linecap="round" />
<polyline points="1980.0,440.0 1862.0,815.0" fill="none" stroke="#8a63c8" stroke-width="3.5" stroke-linejoin="round" stroke-linecap="round" opacity="0.75"/>
<polyline points="2118.6,746.6 2053.4,949.4" fill="none" stroke="#6a7a70" stroke-width="3.5" stroke-linejoin="round" stroke-linecap="round" /><polyline points="2070.6,932.7 2053.4,949.4 2049.2,925.8" fill="none" stroke="#6a7a70" stroke-width="3.5" stroke-linejoin="round" stroke-linecap="round" /><polyline points="2101.4,763.3 2118.6,746.6 2122.8,770.2" fill="none" stroke="#6a7a70" stroke-width="3.5" stroke-linejoin="round" stroke-linecap="round" />
<polyline points="2112.0,768.0 2060.0,930.0" fill="none" stroke="#3faa80" stroke-width="2" stroke-linejoin="round" stroke-linecap="round" opacity="0.6"/>
<polyline points="2159.7,858.6 2104.4,1027.3" fill="none" stroke="#4aa8b8" stroke-width="3.5" stroke-linejoin="round" stroke-linecap="round" /><polyline points="2121.7,1010.7 2104.4,1027.3 2100.3,1003.7" fill="none" stroke="#4aa8b8" stroke-width="3.5" stroke-linejoin="round" stroke-linecap="round" /><polyline points="2142.4,875.2 2159.7,858.6 2163.8,882.2" fill="none" stroke="#4aa8b8" stroke-width="3.5" stroke-linejoin="round" stroke-linecap="round" />
<polyline points="2155.0,872.0 2108.0,1015.0" fill="none" stroke="#5a6a70" stroke-width="2" stroke-linejoin="round" stroke-linecap="round" opacity="0.6"/>
<polyline points="1781.2,974.9 1965.5,1023.1" fill="none" stroke="#a04050" stroke-width="3.5" stroke-linejoin="round" stroke-linecap="round" /><polyline points="1947.8,1006.8 1965.5,1023.1 1942.1,1028.6" fill="none" stroke="#a04050" stroke-width="3.5" stroke-linejoin="round" stroke-linecap="round" /><polyline points="1798.9,991.2 1781.2,974.9 1804.6,969.4" fill="none" stroke="#a04050" stroke-width="3.5" stroke-linejoin="round" stroke-linecap="round" />
<polyline points="1790.0,977.0 1955.0,1020.0" fill="none" stroke="#e04050" stroke-width="2" stroke-linejoin="round" stroke-linecap="round" opacity="0.6"/>
<polyline points="2007.6,1017.0 1883.5,1406.0" fill="none" stroke="#7a7a6a" stroke-width="3" stroke-linejoin="round" stroke-linecap="round" /><polyline points="1900.7,1389.2 1883.5,1406.0 1879.2,1382.4" fill="none" stroke="#7a7a6a" stroke-width="3" stroke-linejoin="round" stroke-linecap="round" /><polyline points="1990.4,1033.8 2007.6,1017.0 2011.9,1040.6" fill="none" stroke="#7a7a6a" stroke-width="3" stroke-linejoin="round" stroke-linecap="round" />
<polyline points="2003.0,1030.0 1888.0,1392.0" fill="none" stroke="#f0d840" stroke-width="4" stroke-linejoin="round" stroke-linecap="round" opacity="0.85"/>
<polyline points="1765.0,1194.6 1669.0,1530.0" fill="none" stroke="#8a8a8a" stroke-width="2.2" stroke-linejoin="round" stroke-linecap="round" /><polyline points="1682.9,1515.6 1669.0,1530.0 1664.8,1510.4" fill="none" stroke="#8a8a8a" stroke-width="2.2" stroke-linejoin="round" stroke-linecap="round" /><polyline points="1751.1,1209.0 1765.0,1194.6 1769.2,1214.2" fill="none" stroke="#8a8a8a" stroke-width="2.2" stroke-linejoin="round" stroke-linecap="round" />
<polyline points="1669.0,1533.0 1550.0,1657.0 1660.0,1598.0" fill="none" stroke="#b0b0b0" stroke-width="1.6" stroke-linejoin="round" stroke-linecap="round" />
<polyline points="487.0,829.0 488.0,920.0" fill="none" stroke="#4a44b6" stroke-width="3" stroke-linejoin="round" stroke-linecap="round" />
<polyline points="487.5,1832.0 486.5,2040.0" fill="none" stroke="#4a44b6" stroke-width="3" stroke-linejoin="round" stroke-linecap="round" />
<polyline points="1909.0,1411.0 1905.5,2047.0" fill="none" stroke="#4a44b6" stroke-width="3" stroke-linejoin="round" stroke-linecap="round" />
<polyline points="486.0,2039.5 1905.5,2047.0" fill="none" stroke="#4a44b6" stroke-width="3.2" stroke-linejoin="round" stroke-linecap="round" />
<polyline points="502.0,2054.9 480.0,2041.0 502.1,2027.3" fill="none" stroke="#4a44b6" stroke-width="3.4" stroke-linejoin="round" stroke-linecap="round" />
<polyline points="1887.7,2034.2 1908.0,2047.0 1887.6,2059.6" fill="none" stroke="#4a44b6" stroke-width="3.4" stroke-linejoin="round" stroke-linecap="round" />
<polygon points="490.0,2342.0 1670.0,2336.0 1670.0,2402.0 490.0,2398.0" fill="#4176d2" stroke="none" stroke-width="0" stroke-linejoin="round" fill-opacity="0.93"/>
<polyline points="486.0,2338.2 1670.0,2333.0" fill="none" stroke="#333333" stroke-width="5" stroke-linejoin="round" stroke-linecap="round" />
<polyline points="486.0,2400.5 1670.0,2405.5" fill="none" stroke="#333333" stroke-width="5" stroke-linejoin="round" stroke-linecap="round" />
<path d="M478,3370 C472,3352 480,3345 490,3344 L1668,3349 L1668,3405 L490,3399 C480,3398 472,3388 478,3370 Z" fill="#4176d2" stroke="none" stroke-width="6" stroke-linejoin="round" stroke-linecap="round" fill-opacity="0.93"/>
<polyline points="485.0,3339.8 1668.0,3345.2" fill="none" stroke="#333333" stroke-width="5" stroke-linejoin="round" stroke-linecap="round" />
<polyline points="485.0,3402.2 1668.0,3408.0" fill="none" stroke="#333333" stroke-width="5" stroke-linejoin="round" stroke-linecap="round" />
<polygon points="1709.0,2270.0 1811.0,2272.0 1811.0,2322.0 1709.0,2320.0" fill="#58b0b4" stroke="#333333" stroke-width="6" stroke-linejoin="round" />
<polygon points="1727.0,2284.0 1793.0,2285.0 1793.0,2322.0 1727.0,2322.0" fill="#ffffff" stroke="#333333" stroke-width="5" stroke-linejoin="round" />
<polygon points="1733.0,2295.0 1787.0,2296.0 1787.0,2318.0 1733.0,2318.0" fill="#f0c840" stroke="none" stroke-width="0" stroke-linejoin="round" />
<polygon points="1713.0,2420.0 1730.0,2420.0 1730.0,2479.0 1713.0,2479.0" fill="#3f9a6a" stroke="#333333" stroke-width="5" stroke-linejoin="round" />
<polygon points="1795.0,2420.0 1817.0,2420.0 1817.0,2476.0 1795.0,2476.0" fill="#3f9a6a" stroke="#333333" stroke-width="5" stroke-linejoin="round" />
<polygon points="1729.0,2420.0 1795.0,2420.0 1795.0,2755.0 1728.0,2755.0" fill="#c4366a" stroke="#333333" stroke-width="7" stroke-linejoin="round" />
<polygon points="1706.0,2755.0 1810.0,2753.0 1808.0,3346.0 1707.0,3346.0" fill="#f4c88e" stroke="#333333" stroke-width="7" stroke-linejoin="round" />
<polyline points="1730.0,2760.0 1732.0,3340.0" fill="none" stroke="#e0a060" stroke-width="3" stroke-linejoin="round" stroke-linecap="round" opacity="0.5"/>
<polyline points="1811.0,2815.0 1826.0,2815.0" fill="none" stroke="#333333" stroke-width="5" stroke-linejoin="round" stroke-linecap="round" />
<path d="M1826,2802 L1836,2800 L1837,2829 L1826,2827 Z" fill="#333333" stroke="#333333" stroke-width="4" stroke-linejoin="round" stroke-linecap="round" />
<polyline points="1811.0,2865.0 1826.0,2865.0" fill="none" stroke="#333333" stroke-width="5" stroke-linejoin="round" stroke-linecap="round" />
<path d="M1826,2852 L1836,2850 L1837,2879 L1826,2877 Z" fill="#333333" stroke="#333333" stroke-width="4" stroke-linejoin="round" stroke-linecap="round" />
<polygon points="1668.0,2318.8 1856.1,2322.6 1859.0,2419.0 1672.8,2426.6" fill="#de4654" stroke="#333333" stroke-width="7" stroke-linejoin="round" />
<circle cx="1728.5" cy="2372.7" r="10.5" fill="#222" stroke="none" stroke-width="0" />
<circle cx="1808.0" cy="2375.6" r="10.5" fill="#222" stroke="none" stroke-width="0" />
<path d="M1708,3432 L1710,3462 C1712,3472 1720,3474 1730,3474 L1790,3474 C1798,3474 1801,3468 1801,3460 L1801,3432 Z" fill="#4a9aa0" stroke="#333333" stroke-width="6" stroke-linejoin="round" stroke-linecap="round" />
<polygon points="1729.0,3432.0 1782.0,3432.0 1780.0,3455.0 1731.0,3456.0" fill="#ffffff" stroke="#333333" stroke-width="4" stroke-linejoin="round" />
<polygon points="1729.0,3432.0 1782.0,3432.0 1781.0,3441.0 1729.0,3441.0" fill="#e0b020" stroke="none" stroke-width="0" stroke-linejoin="round" />
<polygon points="1669.0,3346.3 1846.6,3348.5 1847.8,3430.0 1669.1,3430.0" fill="#dc4452" stroke="#333333" stroke-width="7" stroke-linejoin="round" />
<circle cx="1713.2" cy="3384.9" r="10.0" fill="#222" stroke="none" stroke-width="0" />
<circle cx="1793.7" cy="3383.8" r="10.0" fill="#222" stroke="none" stroke-width="0" />
<polyline points="963.0,2410.0 960.0,3338.0" fill="none" stroke="#4a44b6" stroke-width="3.2" stroke-linejoin="round" stroke-linecap="round" />
<polyline points="948.8,2434.4 963.0,2408.0 977.0,2434.5" fill="none" stroke="#4a44b6" stroke-width="3.5" stroke-linejoin="round" stroke-linecap="round" />
<polyline points="974.2,3312.6 960.0,3339.0 946.0,3312.5" fill="none" stroke="#4a44b6" stroke-width="3.5" stroke-linejoin="round" stroke-linecap="round" />
<path d="M98,2560 L494,2542 C505,2580 516,2620 518.6,2660 L98,2669 Z" fill="none" stroke="#4a44b6" stroke-width="4.5" stroke-linejoin="round" stroke-linecap="round" />
<polygon points="798.5,163.3 1233.5,150.5 1240.0,281.0 805.5,302.0" fill="none" stroke="#4a44b6" stroke-width="4.5" stroke-linejoin="round" />
<g transform="translate(818.0,252.0) rotate(0.00) scale(25.000,25.000)" fill="none" stroke="#4a44b6" stroke-width="0.22" stroke-linecap="round" stroke-linejoin="round" ><path transform="translate(0.000,0)" d="M0.0,-2.0 L0.45,0 L0.9,-2.0"/></g>
<g transform="translate(851.0,263.0) rotate(0.00) scale(38.750,31.000)" fill="none" stroke="#4a44b6" stroke-width="0.17" stroke-linecap="round" stroke-linejoin="round" ><path transform="translate(0.000,0)" d="M0.05,-1 L0.05,-0.35 C0.05,0.05 0.6,0.05 0.72,-0.4 M0.74,-1 L0.74,0"/><path transform="translate(1.037,0)" d="M0.08,-0.48 L0.82,-0.52 C0.8,-1.02 0.1,-1.1 0.05,-0.5 C0.03,0.02 0.5,0.1 0.88,-0.08"/></g>
<g transform="translate(977.0,258.0) rotate(0.00) scale(30.000,30.000)" fill="none" stroke="#4a44b6" stroke-width="0.17" stroke-linecap="round" stroke-linejoin="round" ><path transform="translate(0.000,0)" d="M0.75,-0.8 C0.5,-1.1 0.05,-0.9 0.05,-0.45 C0.05,0.05 0.6,0.05 0.75,-0.3 M0.76,-2.2 L0.8,0"/><path transform="translate(1.183,0)" d="M0.08,-0.48 L0.82,-0.52 C0.8,-1.02 0.1,-1.1 0.05,-0.5 C0.03,0.02 0.5,0.1 0.88,-0.08"/></g>
<g transform="translate(1093.0,262.0) rotate(0.00) scale(30.000,30.000)" fill="none" stroke="#4a44b6" stroke-width="0.17" stroke-linecap="round" stroke-linejoin="round" ><path transform="translate(0.000,0)" d="M0.72,-2.0 C0.55,-2.3 0.28,-2.2 0.28,-1.8 L0.28,0.9 M0.0,-0.75 L0.62,-0.8"/><path transform="translate(0.961,0)" d="M0.78,-0.82 C0.55,-1.08 0.05,-0.95 0.05,-0.45 C0.05,0.05 0.6,0.05 0.76,-0.35 M0.78,-1 L0.8,0"/><path transform="translate(2.072,0)" d="M0.78,-0.85 C0.5,-1.1 0.05,-0.9 0.05,-0.5 C0.05,-0.05 0.5,0.05 0.8,-0.15"/><path transform="translate(3.083,0)" d="M0.08,-0.48 L0.82,-0.52 C0.8,-1.02 0.1,-1.1 0.05,-0.5 C0.03,0.02 0.5,0.1 0.88,-0.08"/></g>
<g transform="translate(197.0,517.0) rotate(-26.74) scale(26.000,26.000)" fill="none" stroke="#7a7a7a" stroke-width="0.20" stroke-linecap="round" stroke-linejoin="round" ><path transform="translate(0.000,0)" d="M0.12,-2.0 L0.1,0 M0.1,-1.95 C0.85,-2.1 0.9,-1.1 0.12,-1.05 C1.0,-1.1 1.0,0.05 0.1,0"/><path transform="translate(1.304,0)" d="M0.78,-0.82 C0.55,-1.08 0.05,-0.95 0.05,-0.45 C0.05,0.05 0.6,0.05 0.76,-0.35 M0.78,-1 L0.8,0"/><path transform="translate(2.558,0)" d="M0.1,-1 L0.1,0 M0.1,-0.6 C0.25,-0.95 0.45,-1.05 0.68,-0.95"/><path transform="translate(3.582,0)" d="M0.1,-1 L0.1,0 M0.1,-0.6 C0.25,-0.95 0.45,-1.05 0.68,-0.95"/><path transform="translate(4.606,0)" d="M0.08,-0.48 L0.82,-0.52 C0.8,-1.02 0.1,-1.1 0.05,-0.5 C0.03,0.02 0.5,0.1 0.88,-0.08"/></g>
<g transform="translate(346.0,440.0) rotate(-29.05) scale(23.000,23.000)" fill="none" stroke="#7a7a7a" stroke-width="0.23" stroke-linecap="round" stroke-linejoin="round" ><path transform="translate(0.000,0)" d="M0.1,-1 L0.1,0.8 M0.1,-0.7 C0.3,-1.1 0.85,-1 0.85,-0.5 C0.85,0 0.35,0.05 0.1,-0.2"/><path transform="translate(0.997,0)" d="M0.45,-1 C-0.02,-1 -0.02,0 0.45,0 C0.92,0 0.92,-1 0.45,-1 Z"/><path transform="translate(1.993,0)" d="M0.1,-1 L0.1,0 M0.1,-0.6 C0.25,-0.95 0.45,-1.05 0.68,-0.95"/><path transform="translate(2.760,0)" d="M0.3,-1.95 L0.3,-0.1 C0.3,0.02 0.5,0.02 0.62,-0.08 M0.0,-1 L0.65,-1"/><path transform="translate(3.526,0)" d="M0.08,-0.48 L0.82,-0.52 C0.8,-1.02 0.1,-1.1 0.05,-0.5 C0.03,0.02 0.5,0.1 0.88,-0.08"/></g>
<g transform="translate(249.0,570.0) rotate(-26.57) scale(24.000,24.000)" fill="none" stroke="#7a7a7a" stroke-width="0.22" stroke-linecap="round" stroke-linejoin="round" ><path transform="translate(0.000,0)" d="M0.45,-1 C-0.02,-1 -0.02,0 0.45,0 C0.92,0 0.92,-1 0.45,-1 Z"/><path transform="translate(1.131,0)" d="M0.05,-1 L0.05,-0.35 C0.05,0.05 0.6,0.05 0.72,-0.4 M0.74,-1 L0.74,0"/><path transform="translate(2.192,0)" d="M0.3,-1.95 L0.3,-0.1 C0.3,0.02 0.5,0.02 0.62,-0.08 M0.0,-1 L0.65,-1"/><path transform="translate(3.093,0)" d="M0.2,-1 L0.2,0 M0.2,-1.42 L0.22,-1.36"/><path transform="translate(3.693,0)" d="M0.2,-2.2 L0.2,-0.1 C0.2,0.02 0.35,0.02 0.42,-0.05"/><path transform="translate(4.324,0)" d="M0.72,-0.9 C0.5,-1.05 0.1,-1 0.1,-0.75 C0.1,-0.5 0.72,-0.5 0.72,-0.25 C0.72,0.05 0.25,0.05 0.05,-0.1"/></g>
<path d="M385,486 C402,500 404,522 388,546" fill="none" stroke="#7a7a7a" stroke-width="5" stroke-linejoin="round" stroke-linecap="round" />
<polyline points="383.6,524.0 388.0,546.0 406.0,539.0" fill="none" stroke="#7a7a7a" stroke-width="5" stroke-linejoin="round" stroke-linecap="round" />
<g transform="translate(778.0,849.0) rotate(0.00) scale(25.000,25.000)" fill="none" stroke="#3a3a3a" stroke-width="0.22" stroke-linecap="round" stroke-linejoin="round" ><path transform="translate(0.000,0)" d="M0.12,-2.2 L0.1,0 M0.1,-0.55 C0.3,-1.05 0.85,-1.0 0.85,-0.5 C0.85,0.02 0.35,0.08 0.1,-0.08"/><path transform="translate(1.100,0)" d="M0.05,-1 L0.05,-0.35 C0.05,0.05 0.6,0.05 0.72,-0.4 M0.74,-1 L0.74,0"/><path transform="translate(2.130,0)" d="M0.3,-1.95 L0.3,-0.1 C0.3,0.02 0.5,0.02 0.62,-0.08 M0.0,-1 L0.65,-1"/><path transform="translate(3.000,0)" d="M0.3,-1.95 L0.3,-0.1 C0.3,0.02 0.5,0.02 0.62,-0.08 M0.0,-1 L0.65,-1"/><path transform="translate(3.870,0)" d="M0.08,-0.48 L0.82,-0.52 C0.8,-1.02 0.1,-1.1 0.05,-0.5 C0.03,0.02 0.5,0.1 0.88,-0.08 M0.3,-1.3 L0.72,-1.55"/><path transform="translate(4.970,0)" d="M0.08,-0.48 L0.82,-0.52 C0.8,-1.02 0.1,-1.1 0.05,-0.5 C0.03,0.02 0.5,0.1 0.88,-0.08"/></g>
<path d="M750,806 C732,782 722,752 722,722" fill="none" stroke="#3a3a3a" stroke-width="5.5" stroke-linejoin="round" stroke-linecap="round" />
<polyline points="707.0,752.0 722.0,720.6 752.0,733.0" fill="none" stroke="#3a3a3a" stroke-width="5.5" stroke-linejoin="round" stroke-linecap="round" />
<path d="M190.2,945.8 L260.4,943.8 L263.4,972.5 L192.2,974.5 Z" fill="#d43c6c" opacity="0.9"/>
<g transform="translate(376.8,976.0) rotate(0.00) scale(25.000,25.000)" fill="none" stroke="#4a44b6" stroke-width="0.18" stroke-linecap="round" stroke-linejoin="round" ><path transform="translate(0.000,0)" d="M0.3,-1.95 L0.3,-0.1 C0.3,0.02 0.5,0.02 0.62,-0.08 M0.0,-1 L0.65,-1"/><path transform="translate(0.751,0)" d="M0.05,-1 L0.05,-0.35 C0.05,0.05 0.6,0.05 0.72,-0.4 M0.74,-1 L0.74,0"/><path transform="translate(1.661,0)" d="M0.12,-2.2 L0.1,0 M0.1,-0.55 C0.3,-1.05 0.85,-1.0 0.85,-0.5 C0.85,0.02 0.35,0.08 0.1,-0.08"/><path transform="translate(2.642,0)" d="M0.08,-0.48 L0.82,-0.52 C0.8,-1.02 0.1,-1.1 0.05,-0.5 C0.03,0.02 0.5,0.1 0.88,-0.08"/></g>
<g transform="translate(535.0,974.0) rotate(0.00) scale(31.200,24.000)" fill="none" stroke="#4a44b6" stroke-width="0.19" stroke-linecap="round" stroke-linejoin="round" ><path transform="translate(0.000,0)" d="M0.1,-1.62 C0.3,-1.944 0.8,-1.86 0.75,-1.38 C0.7,-1.02 0.42,-0.96 0.35,-0.96 C0.92,-0.96 0.92,0 0.4,0 C0.25,0 0.1,-0.06 0.05,-0.18"/><path transform="translate(1.265,0)" d="M0.82,-1.8 L0.22,-1.776 L0.16,-1.02 C0.5,-1.26 0.9,-0.96 0.85,-0.48 C0.8,0.06 0.25,0.06 0.05,-0.18"/><path transform="translate(2.530,0)" d="M0.05,-1 L0.68,0 M0.68,-1 L0.05,0"/><path transform="translate(3.655,0)" d="M0.1,-1.62 C0.3,-1.944 0.8,-1.86 0.75,-1.38 C0.7,-1.02 0.42,-0.96 0.35,-0.96 C0.92,-0.96 0.92,0 0.4,0 C0.25,0 0.1,-0.06 0.05,-0.18"/><path transform="translate(4.920,0)" d="M0.82,-1.8 L0.22,-1.776 L0.16,-1.02 C0.5,-1.26 0.9,-0.96 0.85,-0.48 C0.8,0.06 0.25,0.06 0.05,-0.18"/><path transform="translate(6.185,0)" d="M0.05,-1 L0.68,0 M0.68,-1 L0.05,0"/><path transform="translate(7.310,0)" d="M0.1,-1.44 C0.2,-1.944 0.85,-1.944 0.8,-1.32 C0.75,-0.84 0.3,-0.48 0.05,0 L0.88,0"/></g>
<path d="M190.2,1063.9 L253.3,1061.9 L256.3,1090.7 L192.2,1092.7 Z" fill="#f1b25e" opacity="0.9"/>
<g transform="translate(348.5,1089.0) rotate(0.00) scale(25.000,25.000)" fill="none" stroke="#4a44b6" stroke-width="0.18" stroke-linecap="round" stroke-linejoin="round" ><path transform="translate(0.000,0)" d="M0.3,-1.95 L0.3,-0.1 C0.3,0.02 0.5,0.02 0.62,-0.08 M0.0,-1 L0.65,-1"/><path transform="translate(1.097,0)" d="M0.05,-1 L0.05,-0.35 C0.05,0.05 0.6,0.05 0.72,-0.4 M0.74,-1 L0.74,0"/><path transform="translate(2.355,0)" d="M0.12,-2.2 L0.1,0 M0.1,-0.55 C0.3,-1.05 0.85,-1.0 0.85,-0.5 C0.85,0.02 0.35,0.08 0.1,-0.08"/><path transform="translate(3.682,0)" d="M0.08,-0.48 L0.82,-0.52 C0.8,-1.02 0.1,-1.1 0.05,-0.5 C0.03,0.02 0.5,0.1 0.88,-0.08"/></g>
<g transform="translate(514.0,1094.0) rotate(0.00) scale(31.200,24.000)" fill="none" stroke="#4a44b6" stroke-width="0.19" stroke-linecap="round" stroke-linejoin="round" ><path transform="translate(0.000,0)" d="M0.12,-1.8 L0.08,-0.78 C0.1,-0.54 0.6,-0.6 0.78,-0.78 M0.72,-1.44 L0.72,0"/><path transform="translate(1.274,0)" d="M0.42,-1.8 C-0.05,-1.8 -0.05,0 0.42,0 C0.89,0 0.89,-1.8 0.42,-1.8 Z"/><path transform="translate(2.548,0)" d="M0.05,-1 L0.68,0 M0.68,-1 L0.05,0"/><path transform="translate(3.652,0)" d="M0.12,-1.8 L0.08,-0.78 C0.1,-0.54 0.6,-0.6 0.78,-0.78 M0.72,-1.44 L0.72,0"/><path transform="translate(4.925,0)" d="M0.42,-1.8 C-0.05,-1.8 -0.05,0 0.42,0 C0.89,0 0.89,-1.8 0.42,-1.8 Z"/><path transform="translate(6.199,0)" d="M0.05,-1 L0.68,0 M0.68,-1 L0.05,0"/><path transform="translate(7.303,0)" d="M0.1,-1.44 C0.2,-1.944 0.85,-1.944 0.8,-1.32 C0.75,-0.84 0.3,-0.48 0.05,0 L0.88,0"/></g>
<path d="M192.5,1189.2 L253.3,1187.2 L256.3,1211.2 L194.5,1213.2 Z" fill="#7b5db4" opacity="0.9"/>
<g transform="translate(346.0,1211.0) rotate(0.00) scale(25.000,25.000)" fill="none" stroke="#4a44b6" stroke-width="0.18" stroke-linecap="round" stroke-linejoin="round" ><path transform="translate(0.000,0)" d="M0.3,-1.95 L0.3,-0.1 C0.3,0.02 0.5,0.02 0.62,-0.08 M0.0,-1 L0.65,-1"/><path transform="translate(0.973,0)" d="M0.05,-1 L0.05,-0.35 C0.05,0.05 0.6,0.05 0.72,-0.4 M0.74,-1 L0.74,0"/><path transform="translate(2.107,0)" d="M0.12,-2.2 L0.1,0 M0.1,-0.55 C0.3,-1.05 0.85,-1.0 0.85,-0.5 C0.85,0.02 0.35,0.08 0.1,-0.08"/><path transform="translate(3.310,0)" d="M0.08,-0.48 L0.82,-0.52 C0.8,-1.02 0.1,-1.1 0.05,-0.5 C0.03,0.02 0.5,0.1 0.88,-0.08"/></g>
<g transform="translate(502.0,1216.0) rotate(0.00) scale(31.200,24.000)" fill="none" stroke="#4a44b6" stroke-width="0.19" stroke-linecap="round" stroke-linejoin="round" ><path transform="translate(0.000,0)" d="M0.1,-1.62 C0.3,-1.944 0.8,-1.86 0.75,-1.38 C0.7,-1.02 0.42,-0.96 0.35,-0.96 C0.92,-0.96 0.92,0 0.4,0 C0.25,0 0.1,-0.06 0.05,-0.18"/><path transform="translate(1.315,0)" d="M0.82,-1.8 L0.22,-1.776 L0.16,-1.02 C0.5,-1.26 0.9,-0.96 0.85,-0.48 C0.8,0.06 0.25,0.06 0.05,-0.18"/><path transform="translate(2.629,0)" d="M0.05,-1 L0.68,0 M0.68,-1 L0.05,0"/><path transform="translate(3.804,0)" d="M0.1,-1.62 C0.3,-1.944 0.8,-1.86 0.75,-1.38 C0.7,-1.02 0.42,-0.96 0.35,-0.96 C0.92,-0.96 0.92,0 0.4,0 C0.25,0 0.1,-0.06 0.05,-0.18"/><path transform="translate(5.118,0)" d="M0.82,-1.8 L0.22,-1.776 L0.16,-1.02 C0.5,-1.26 0.9,-0.96 0.85,-0.48 C0.8,0.06 0.25,0.06 0.05,-0.18"/><path transform="translate(6.433,0)" d="M0.05,-1 L0.68,0 M0.68,-1 L0.05,0"/><path transform="translate(7.608,0)" d="M0.1,-1.44 C0.2,-1.944 0.85,-1.944 0.8,-1.32 C0.75,-0.84 0.3,-0.48 0.05,0 L0.88,0"/></g>
<path d="M191.6,1309.7 L253.3,1307.7 L256.3,1331.7 L193.6,1333.7 Z" fill="#3ea263" opacity="0.9"/>
<g transform="translate(358.0,1334.0) rotate(0.00) scale(25.000,25.000)" fill="none" stroke="#4a44b6" stroke-width="0.18" stroke-linecap="round" stroke-linejoin="round" ><path transform="translate(0.000,0)" d="M0.3,-1.95 L0.3,-0.1 C0.3,0.02 0.5,0.02 0.62,-0.08 M0.0,-1 L0.65,-1"/><path transform="translate(0.971,0)" d="M0.05,-1 L0.05,-0.35 C0.05,0.05 0.6,0.05 0.72,-0.4 M0.74,-1 L0.74,0"/><path transform="translate(2.101,0)" d="M0.12,-2.2 L0.1,0 M0.1,-0.55 C0.3,-1.05 0.85,-1.0 0.85,-0.5 C0.85,0.02 0.35,0.08 0.1,-0.08"/><path transform="translate(3.302,0)" d="M0.08,-0.48 L0.82,-0.52 C0.8,-1.02 0.1,-1.1 0.05,-0.5 C0.03,0.02 0.5,0.1 0.88,-0.08"/></g>
<g transform="translate(535.0,1330.0) rotate(0.00) scale(31.200,24.000)" fill="none" stroke="#4a44b6" stroke-width="0.19" stroke-linecap="round" stroke-linejoin="round" ><path transform="translate(0.000,0)" d="M0.12,-1.8 L0.08,-0.78 C0.1,-0.54 0.6,-0.6 0.78,-0.78 M0.72,-1.44 L0.72,0"/><path transform="translate(1.338,0)" d="M0.42,-1.8 C-0.05,-1.8 -0.05,0 0.42,0 C0.89,0 0.89,-1.8 0.42,-1.8 Z"/><path transform="translate(2.676,0)" d="M0.05,-1 L0.68,0 M0.68,-1 L0.05,0"/><path transform="translate(3.844,0)" d="M0.12,-1.8 L0.08,-0.78 C0.1,-0.54 0.6,-0.6 0.78,-0.78 M0.72,-1.44 L0.72,0"/><path transform="translate(5.182,0)" d="M0.42,-1.8 C-0.05,-1.8 -0.05,0 0.42,0 C0.89,0 0.89,-1.8 0.42,-1.8 Z"/><path transform="translate(6.520,0)" d="M0.05,-1 L0.68,0 M0.68,-1 L0.05,0"/><path transform="translate(7.688,0)" d="M0.1,-1.44 C0.2,-1.944 0.85,-1.944 0.8,-1.32 C0.75,-0.84 0.3,-0.48 0.05,0 L0.88,0"/></g>
<path d="M192.5,1418.7 L253.3,1416.7 L256.3,1447.8 L194.5,1449.8 Z" fill="#3c74d2" opacity="0.9"/>
<g transform="translate(367.4,1454.0) rotate(0.00) scale(25.000,25.000)" fill="none" stroke="#4a44b6" stroke-width="0.18" stroke-linecap="round" stroke-linejoin="round" ><path transform="translate(0.000,0)" d="M0.3,-1.95 L0.3,-0.1 C0.3,0.02 0.5,0.02 0.62,-0.08 M0.0,-1 L0.65,-1"/><path transform="translate(0.971,0)" d="M0.05,-1 L0.05,-0.35 C0.05,0.05 0.6,0.05 0.72,-0.4 M0.74,-1 L0.74,0"/><path transform="translate(2.101,0)" d="M0.12,-2.2 L0.1,0 M0.1,-0.55 C0.3,-1.05 0.85,-1.0 0.85,-0.5 C0.85,0.02 0.35,0.08 0.1,-0.08"/><path transform="translate(3.302,0)" d="M0.08,-0.48 L0.82,-0.52 C0.8,-1.02 0.1,-1.1 0.05,-0.5 C0.03,0.02 0.5,0.1 0.88,-0.08"/></g>
<g transform="translate(539.9,1449.0) rotate(0.00) scale(31.200,24.000)" fill="none" stroke="#4a44b6" stroke-width="0.19" stroke-linecap="round" stroke-linejoin="round" ><path transform="translate(0.000,0)" d="M0.1,-1.62 C0.3,-1.944 0.8,-1.86 0.75,-1.38 C0.7,-1.02 0.42,-0.96 0.35,-0.96 C0.92,-0.96 0.92,0 0.4,0 C0.25,0 0.1,-0.06 0.05,-0.18"/><path transform="translate(1.340,0)" d="M0.82,-1.8 L0.22,-1.776 L0.16,-1.02 C0.5,-1.26 0.9,-0.96 0.85,-0.48 C0.8,0.06 0.25,0.06 0.05,-0.18"/><path transform="translate(2.679,0)" d="M0.05,-1 L0.68,0 M0.68,-1 L0.05,0"/><path transform="translate(3.879,0)" d="M0.1,-1.62 C0.3,-1.944 0.8,-1.86 0.75,-1.38 C0.7,-1.02 0.42,-0.96 0.35,-0.96 C0.92,-0.96 0.92,0 0.4,0 C0.25,0 0.1,-0.06 0.05,-0.18"/><path transform="translate(5.219,0)" d="M0.82,-1.8 L0.22,-1.776 L0.16,-1.02 C0.5,-1.26 0.9,-0.96 0.85,-0.48 C0.8,0.06 0.25,0.06 0.05,-0.18"/><path transform="translate(6.559,0)" d="M0.05,-1 L0.68,0 M0.68,-1 L0.05,0"/><path transform="translate(7.758,0)" d="M0.1,-1.44 C0.2,-1.944 0.85,-1.944 0.8,-1.32 C0.75,-0.84 0.3,-0.48 0.05,0 L0.88,0"/></g>
<path d="M192.5,1541.6 L251.0,1539.6 L254.0,1563.6 L194.5,1565.6 Z" fill="#f6e040" opacity="0.9"/>
<g transform="translate(648.6,1567.0) rotate(0.00) scale(31.200,24.000)" fill="none" stroke="#4a44b6" stroke-width="0.19" stroke-linecap="round" stroke-linejoin="round" ><path transform="translate(0.000,0)" d="M0.1,-1.62 C0.3,-1.944 0.8,-1.86 0.75,-1.38 C0.7,-1.02 0.42,-0.96 0.35,-0.96 C0.92,-0.96 0.92,0 0.4,0 C0.25,0 0.1,-0.06 0.05,-0.18"/><path transform="translate(1.251,0)" d="M0.42,-1.8 C-0.05,-1.8 -0.05,0 0.42,0 C0.89,0 0.89,-1.8 0.42,-1.8 Z"/><path transform="translate(2.533,0)" d="M0.05,-1 L0.68,0 M0.68,-1 L0.05,0"/><path transform="translate(3.644,0)" d="M0.1,-1.32 L0.42,-1.8 L0.42,0"/><path transform="translate(4.576,0)" d="M0.42,-1.8 C-0.05,-1.8 -0.05,0 0.42,0 C0.89,0 0.89,-1.8 0.42,-1.8 Z"/></g>
<path d="M190.2,1659.7 L251.0,1657.7 L254.0,1686.4 L192.2,1688.4 Z" fill="#ea4a55" opacity="0.9"/>
<g transform="translate(372.0,1684.0) rotate(0.00) scale(25.000,25.000)" fill="none" stroke="#4a44b6" stroke-width="0.18" stroke-linecap="round" stroke-linejoin="round" ><path transform="translate(0.000,0)" d="M0.3,-1.95 L0.3,-0.1 C0.3,0.02 0.5,0.02 0.62,-0.08 M0.0,-1 L0.65,-1"/><path transform="translate(0.973,0)" d="M0.05,-1 L0.05,-0.35 C0.05,0.05 0.6,0.05 0.72,-0.4 M0.74,-1 L0.74,0"/><path transform="translate(2.107,0)" d="M0.12,-2.2 L0.1,0 M0.1,-0.55 C0.3,-1.05 0.85,-1.0 0.85,-0.5 C0.85,0.02 0.35,0.08 0.1,-0.08"/><path transform="translate(3.310,0)" d="M0.08,-0.48 L0.82,-0.52 C0.8,-1.02 0.1,-1.1 0.05,-0.5 C0.03,0.02 0.5,0.1 0.88,-0.08"/></g>
<g transform="translate(556.4,1685.0) rotate(0.00) scale(31.200,24.000)" fill="none" stroke="#4a44b6" stroke-width="0.19" stroke-linecap="round" stroke-linejoin="round" ><path transform="translate(0.000,0)" d="M0.12,-1.8 L0.08,-0.78 C0.1,-0.54 0.6,-0.6 0.78,-0.78 M0.72,-1.44 L0.72,0"/><path transform="translate(1.312,0)" d="M0.42,-1.8 C-0.05,-1.8 -0.05,0 0.42,0 C0.89,0 0.89,-1.8 0.42,-1.8 Z"/><path transform="translate(2.624,0)" d="M0.05,-1 L0.68,0 M0.68,-1 L0.05,0"/><path transform="translate(3.765,0)" d="M0.12,-1.8 L0.08,-0.78 C0.1,-0.54 0.6,-0.6 0.78,-0.78 M0.72,-1.44 L0.72,0"/><path transform="translate(5.077,0)" d="M0.42,-1.8 C-0.05,-1.8 -0.05,0 0.42,0 C0.89,0 0.89,-1.8 0.42,-1.8 Z"/><path transform="translate(6.389,0)" d="M0.05,-1 L0.68,0 M0.68,-1 L0.05,0"/><path transform="translate(7.531,0)" d="M0.1,-1.44 C0.2,-1.944 0.85,-1.944 0.8,-1.32 C0.75,-0.84 0.3,-0.48 0.05,0 L0.88,0"/></g>
<path d="M187.8,1780.2 L251.0,1778.2 L254.0,1807.0 L189.8,1809.0 Z" fill="#2d9b90" opacity="0.9"/>
<g transform="translate(376.8,1800.0) rotate(0.00) scale(25.000,25.000)" fill="none" stroke="#4a44b6" stroke-width="0.18" stroke-linecap="round" stroke-linejoin="round" ><path transform="translate(0.000,0)" d="M0.3,-1.95 L0.3,-0.1 C0.3,0.02 0.5,0.02 0.62,-0.08 M0.0,-1 L0.65,-1"/><path transform="translate(0.876,0)" d="M0.05,-1 L0.05,-0.35 C0.05,0.05 0.6,0.05 0.72,-0.4 M0.74,-1 L0.74,0"/><path transform="translate(1.912,0)" d="M0.12,-2.2 L0.1,0 M0.1,-0.55 C0.3,-1.05 0.85,-1.0 0.85,-0.5 C0.85,0.02 0.35,0.08 0.1,-0.08"/><path transform="translate(3.018,0)" d="M0.08,-0.48 L0.82,-0.52 C0.8,-1.02 0.1,-1.1 0.05,-0.5 C0.03,0.02 0.5,0.1 0.88,-0.08"/></g>
<g transform="translate(551.7,1805.0) rotate(0.00) scale(31.200,24.000)" fill="none" stroke="#4a44b6" stroke-width="0.19" stroke-linecap="round" stroke-linejoin="round" ><path transform="translate(0.000,0)" d="M0.1,-1.62 C0.3,-1.944 0.8,-1.86 0.75,-1.38 C0.7,-1.02 0.42,-0.96 0.35,-0.96 C0.92,-0.96 0.92,0 0.4,0 C0.25,0 0.1,-0.06 0.05,-0.18"/><path transform="translate(1.381,0)" d="M0.82,-1.8 L0.22,-1.776 L0.16,-1.02 C0.5,-1.26 0.9,-0.96 0.85,-0.48 C0.8,0.06 0.25,0.06 0.05,-0.18"/><path transform="translate(2.762,0)" d="M0.05,-1 L0.68,0 M0.68,-1 L0.05,0"/><path transform="translate(4.003,0)" d="M0.1,-1.44 C0.2,-1.944 0.85,-1.944 0.8,-1.32 C0.75,-0.84 0.3,-0.48 0.05,0 L0.88,0"/><path transform="translate(5.414,0)" d="M0.42,-1.8 C-0.05,-1.8 -0.05,0 0.42,0 C0.89,0 0.89,-1.8 0.42,-1.8 Z"/><path transform="translate(6.825,0)" d="M0.05,-1 L0.68,0 M0.68,-1 L0.05,0"/><path transform="translate(8.066,0)" d="M0.1,-1.44 C0.2,-1.944 0.85,-1.944 0.8,-1.32 C0.75,-0.84 0.3,-0.48 0.05,0 L0.88,0"/></g>
<g transform="translate(372.0,1568.0) rotate(0.00) scale(24.000,24.000)" fill="none" stroke="#4a44b6" stroke-width="0.19" stroke-linecap="round" stroke-linejoin="round" ><path transform="translate(0.000,0)" d="M0.72,-2.0 C0.55,-2.3 0.28,-2.2 0.28,-1.8 L0.28,0.9 M0.0,-0.75 L0.62,-0.8"/><path transform="translate(0.919,0)" d="M0.08,-0.48 L0.82,-0.52 C0.8,-1.02 0.1,-1.1 0.05,-0.5 C0.03,0.02 0.5,0.1 0.88,-0.08"/><path transform="translate(1.988,0)" d="M0.1,-1 L0.1,0 M0.1,-0.6 C0.25,-0.95 0.45,-1.05 0.68,-0.95"/></g>
<g transform="translate(476.0,1566.0) rotate(0.00) scale(24.000,24.000)" fill="none" stroke="#4a44b6" stroke-width="0.19" stroke-linecap="round" stroke-linejoin="round" ><path transform="translate(0.000,0)" d="M0.1,-1 L0.1,0.8 M0.1,-0.7 C0.3,-1.1 0.85,-1 0.85,-0.5 C0.85,0 0.35,0.05 0.1,-0.2"/><path transform="translate(1.538,0)" d="M0.2,-2.2 L0.2,-0.1 C0.2,0.02 0.35,0.02 0.42,-0.05"/><path transform="translate(2.576,0)" d="M0.78,-0.82 C0.55,-1.08 0.05,-0.95 0.05,-0.45 C0.05,0.05 0.6,0.05 0.76,-0.35 M0.78,-1 L0.8,0"/><path transform="translate(4.113,0)" d="M0.3,-1.95 L0.3,-0.1 C0.3,0.02 0.5,0.02 0.62,-0.08 M0.0,-1 L0.65,-1"/></g>
<g transform="translate(1270.0,1210.0) rotate(0.00) scale(24.000,24.000)" fill="none" stroke="#3a3a3a" stroke-width="0.25" stroke-linecap="round" stroke-linejoin="round" ><path transform="translate(0.000,0)" d="M0.1,-2.0 L0.1,0 M0.1,-2.0 C1.15,-2.0 1.15,0 0.1,0"/><path transform="translate(1.315,0)" d="M0.2,-1 L0.2,0 M0.2,-1.42 L0.22,-1.36"/><path transform="translate(2.000,0)" d="M0.72,-0.9 C0.5,-1.05 0.1,-1 0.1,-0.75 C0.1,-0.5 0.72,-0.5 0.72,-0.25 C0.72,0.05 0.25,0.05 0.05,-0.1"/><path transform="translate(3.065,0)" d="M0.75,-0.8 C0.5,-1.1 0.05,-0.9 0.05,-0.45 C0.05,0.05 0.6,0.05 0.75,-0.3 M0.75,-1 L0.72,0.85"/><path transform="translate(4.280,0)" d="M0.05,-1 L0.05,-0.35 C0.05,0.05 0.6,0.05 0.72,-0.4 M0.74,-1 L0.74,0"/><path transform="translate(5.425,0)" d="M0.08,-0.48 L0.82,-0.52 C0.8,-1.02 0.1,-1.1 0.05,-0.5 C0.03,0.02 0.5,0.1 0.88,-0.08"/></g>
<g transform="translate(1462.0,1212.0) rotate(0.00) scale(24.000,24.000)" fill="none" stroke="#3a3a3a" stroke-width="0.25" stroke-linecap="round" stroke-linejoin="round" ><path transform="translate(0.000,0)" d="M0.75,-0.8 C0.5,-1.1 0.05,-0.9 0.05,-0.45 C0.05,0.05 0.6,0.05 0.75,-0.3 M0.76,-2.2 L0.8,0"/><path transform="translate(1.258,0)" d="M0.08,-0.48 L0.82,-0.52 C0.8,-1.02 0.1,-1.1 0.05,-0.5 C0.03,0.02 0.5,0.1 0.88,-0.08"/></g>
<polyline points="1255.0,1229.0 1520.0,1226.5" fill="none" stroke="#3a3a3a" stroke-width="6.5" stroke-linejoin="round" stroke-linecap="round" />
<g transform="translate(1187.0,1331.0) rotate(0.00) scale(23.000,23.000)" fill="none" stroke="#3a3a3a" stroke-width="0.26" stroke-linecap="round" stroke-linejoin="round" ><path transform="translate(0.000,0)" d="M0.05,-1 L0.05,0 M0.05,-0.7 C0.2,-1.05 0.52,-1.05 0.52,-0.6 L0.52,0 M0.52,-0.6 C0.67,-1.05 1.0,-1.05 1.0,-0.6 L1.0,0"/><path transform="translate(1.526,0)" d="M0.78,-0.82 C0.55,-1.08 0.05,-0.95 0.05,-0.45 C0.05,0.05 0.6,0.05 0.76,-0.35 M0.78,-1 L0.8,0"/><path transform="translate(2.851,0)" d="M0.2,-1 L0.2,0 M0.2,-1.42 L0.22,-1.36"/><path transform="translate(3.647,0)" d="M0.05,-1 L0.05,0 M0.05,-0.7 C0.2,-1.05 0.72,-1.05 0.72,-0.6 L0.72,0"/><path transform="translate(4.903,0)" d="M0.3,-1.95 L0.3,-0.1 C0.3,0.02 0.5,0.02 0.62,-0.08 M0.0,-1 L0.65,-1"/><path transform="translate(5.999,0)" d="M0.2,-1 L0.2,0 M0.2,-1.42 L0.22,-1.36"/><path transform="translate(6.794,0)" d="M0.08,-0.48 L0.82,-0.52 C0.8,-1.02 0.1,-1.1 0.05,-0.5 C0.03,0.02 0.5,0.1 0.88,-0.08"/><path transform="translate(8.120,0)" d="M0.05,-1 L0.05,0 M0.05,-0.7 C0.2,-1.05 0.72,-1.05 0.72,-0.6 L0.72,0"/></g>
<g transform="translate(1424.0,1331.0) rotate(0.00) scale(23.000,23.000)" fill="none" stroke="#3a3a3a" stroke-width="0.26" stroke-linecap="round" stroke-linejoin="round" ><path transform="translate(0.000,0)" d="M0.75,-0.8 C0.5,-1.1 0.05,-0.9 0.05,-0.45 C0.05,0.05 0.6,0.05 0.75,-0.3 M0.76,-2.2 L0.8,0"/><path transform="translate(1.485,0)" d="M0.08,-0.48 L0.82,-0.52 C0.8,-1.02 0.1,-1.1 0.05,-0.5 C0.03,0.02 0.5,0.1 0.88,-0.08"/></g>
<polyline points="1187.0,1348.4 1477.5,1342.7" fill="none" stroke="#3a3a3a" stroke-width="6.5" stroke-linejoin="round" stroke-linecap="round" />
<g transform="translate(1300.0,1413.0) rotate(0.00) scale(24.000,24.000)" fill="none" stroke="#3a3a3a" stroke-width="0.25" stroke-linecap="round" stroke-linejoin="round" ><path transform="translate(0.000,0)" d="M0.12,-2.2 L0.1,0 M0.1,-0.55 C0.3,-1.05 0.85,-1.0 0.85,-0.5 C0.85,0.02 0.35,0.08 0.1,-0.08"/><path transform="translate(1.135,0)" d="M0.05,-1 L0.05,-0.35 C0.05,0.05 0.6,0.05 0.72,-0.4 M0.74,-1 L0.74,0"/><path transform="translate(2.199,0)" d="M0.3,-1.95 L0.3,-0.1 C0.3,0.02 0.5,0.02 0.62,-0.08 M0.0,-1 L0.65,-1"/><path transform="translate(3.104,0)" d="M0.3,-1.95 L0.3,-0.1 C0.3,0.02 0.5,0.02 0.62,-0.08 M0.0,-1 L0.65,-1"/><path transform="translate(4.008,0)" d="M0.08,-0.48 L0.82,-0.52 C0.8,-1.02 0.1,-1.1 0.05,-0.5 C0.03,0.02 0.5,0.1 0.88,-0.08"/></g>
<polyline points="1300.3,1434.9 1410.8,1432.0" fill="none" stroke="#3a3a3a" stroke-width="6.5" stroke-linejoin="round" stroke-linecap="round" />
<path d="M1461,1400 C1490,1393 1530,1397 1557,1399" fill="none" stroke="#3a3a3a" stroke-width="5.5" stroke-linejoin="round" stroke-linecap="round" />
<path d="M1538,1389 C1552,1391 1560,1396 1558,1400 C1554,1405 1545,1408 1540,1411" fill="none" stroke="#3a3a3a" stroke-width="5.5" stroke-linejoin="round" stroke-linecap="round" />
<g transform="translate(2003.0,1748.0) rotate(0.00) scale(23.000,23.000)" fill="none" stroke="#3a3a3a" stroke-width="0.28" stroke-linecap="round" stroke-linejoin="round" ><path transform="translate(0.000,0)" d="M0.1,-2.0 L0.1,0 M0.1,-1.95 C0.95,-2.05 0.95,-1.0 0.1,-1.05 L0.85,0"/><path transform="translate(1.291,0)" d="M0.45,-1 C-0.02,-1 -0.02,0 0.45,0 C0.92,0 0.92,-1 0.45,-1 Z"/><path transform="translate(2.531,0)" d="M0.05,-1 L0.05,-0.35 C0.05,0.05 0.6,0.05 0.72,-0.4 M0.74,-1 L0.74,0"/><path transform="translate(3.702,0)" d="M0.08,-0.48 L0.82,-0.52 C0.8,-1.02 0.1,-1.1 0.05,-0.5 C0.03,0.02 0.5,0.1 0.88,-0.08"/></g>
<g transform="translate(2143.0,1750.0) rotate(0.00) scale(23.000,23.000)" fill="none" stroke="#3a3a3a" stroke-width="0.28" stroke-linecap="round" stroke-linejoin="round" ><path transform="translate(0.000,0)" d="M0.78,-0.82 C0.55,-1.08 0.05,-0.95 0.05,-0.45 C0.05,0.05 0.6,0.05 0.76,-0.35 M0.78,-1 L0.8,0"/><path transform="translate(1.349,0)" d="M0.1,-1 L0.1,0 M0.1,-0.6 C0.25,-0.95 0.45,-1.05 0.68,-0.95"/><path transform="translate(2.469,0)" d="M0.1,-1 L0.1,0 M0.1,-0.6 C0.25,-0.95 0.45,-1.05 0.68,-0.95"/><path transform="translate(3.588,0)" d="M0.2,-1 L0.2,0 M0.2,-1.42 L0.22,-1.36"/><path transform="translate(4.407,0)" d="M0.08,-0.48 L0.82,-0.52 C0.8,-1.02 0.1,-1.1 0.05,-0.5 C0.03,0.02 0.5,0.1 0.88,-0.08 M0.25,-1.55 L0.62,-1.3"/><path transform="translate(5.757,0)" d="M0.1,-1 L0.1,0 M0.1,-0.6 C0.25,-0.95 0.45,-1.05 0.68,-0.95"/><path transform="translate(6.876,0)" d="M0.08,-0.48 L0.82,-0.52 C0.8,-1.02 0.1,-1.1 0.05,-0.5 C0.03,0.02 0.5,0.1 0.88,-0.08"/></g>
<polyline points="1995.0,1769.3 2330.0,1773.5" fill="none" stroke="#3a3a3a" stroke-width="7" stroke-linejoin="round" stroke-linecap="round" />
<g transform="translate(1995.0,1859.0) rotate(0.00) scale(25.000,25.000)" fill="none" stroke="#3a3a3a" stroke-width="0.26" stroke-linecap="round" stroke-linejoin="round" ><path transform="translate(0.000,0)" d="M0.75,-0.8 C0.5,-1.1 0.05,-0.9 0.05,-0.45 C0.05,0.05 0.6,0.05 0.75,-0.3 M0.76,-2.2 L0.8,0"/><path transform="translate(1.600,0)" d="M0.05,-1 L0.05,-0.35 C0.05,0.05 0.6,0.05 0.72,-0.4 M0.74,-1 L0.74,0"/></g>
<g transform="translate(2096.0,1859.0) rotate(0.00) scale(25.000,25.000)" fill="none" stroke="#3a3a3a" stroke-width="0.26" stroke-linecap="round" stroke-linejoin="round" ><path transform="translate(0.000,0)" d="M0.1,-2.0 L0.1,0 M0.1,-1.95 C0.9,-2.05 0.9,-1.0 0.1,-1.05"/><path transform="translate(1.167,0)" d="M0.5,-2.0 C-0.02,-2.0 -0.02,0 0.5,0 C1.02,0 1.02,-2.0 0.5,-2.0 Z"/><path transform="translate(2.483,0)" d="M0.1,-2.0 L0.1,0 M0.1,-1.95 C0.9,-2.05 0.9,-1.0 0.1,-1.05"/><path transform="translate(3.650,0)" d="M0.12,-1.8 L0.08,-0.78 C0.1,-0.54 0.6,-0.6 0.78,-0.78 M0.72,-1.44 L0.72,0"/></g>
<polyline points="1995.0,1880.0 2215.0,1875.8" fill="none" stroke="#3a3a3a" stroke-width="7" stroke-linejoin="round" stroke-linecap="round" />
<path d="M1981,1695 C1962,1668 1972,1630 2006,1613" fill="none" stroke="#3a3a3a" stroke-width="5.5" stroke-linejoin="round" stroke-linecap="round" />
<polyline points="1995.0,1608.0 2008.0,1611.0 2007.0,1633.0" fill="none" stroke="#3a3a3a" stroke-width="5.5" stroke-linejoin="round" stroke-linecap="round" />
<g transform="translate(1034.0,2128.0) rotate(0.00) scale(35.100,26.000)" fill="none" stroke="#4a44b6" stroke-width="0.19" stroke-linecap="round" stroke-linejoin="round" ><path transform="translate(0.000,0)" d="M0.75,-1.32 C0.75,-1.944 0.05,-1.92 0.1,-1.26 C0.15,-0.72 0.75,-0.84 0.75,-1.32 L0.7,0"/><path transform="translate(1.220,0)" d="M0.1,-1.62 C0.3,-1.944 0.8,-1.86 0.75,-1.38 C0.7,-1.02 0.42,-0.96 0.35,-0.96 C0.92,-0.96 0.92,0 0.4,0 C0.25,0 0.1,-0.06 0.05,-0.18"/><path transform="translate(2.440,0)" d="M0.42,-1.8 C-0.05,-1.8 -0.05,0 0.42,0 C0.89,0 0.89,-1.8 0.42,-1.8 Z"/></g>
<g transform="translate(1197.0,2139.0) rotate(0.00) scale(36.800,23.000)" fill="none" stroke="#4a44b6" stroke-width="0.20" stroke-linecap="round" stroke-linejoin="round" ><path transform="translate(0.000,0)" d="M0.05,-1 L0.05,0 M0.05,-0.7 C0.2,-1.05 0.52,-1.05 0.52,-0.6 L0.52,0 M0.52,-0.6 C0.67,-1.05 1.0,-1.05 1.0,-0.6 L1.0,0"/><path transform="translate(1.259,0)" d="M0.78,-0.82 C0.55,-1.08 0.05,-0.95 0.05,-0.45 C0.05,0.05 0.6,0.05 0.76,-0.35 M0.78,-1 L0.8,0"/><path transform="translate(2.318,0)" d="M0.05,-1 L0.68,0 M0.68,-1 L0.05,0"/></g>
<g transform="translate(122.0,2640.0) rotate(0.00) scale(28.000,28.000)" fill="none" stroke="#4a44b6" stroke-width="0.18" stroke-linecap="round" stroke-linejoin="round" ><path transform="translate(0.000,0)" d="M0.0,-2.0 L0.45,0 L0.9,-2.0"/></g>
<g transform="translate(156.0,2640.0) rotate(0.00) scale(38.400,24.000)" fill="none" stroke="#4a44b6" stroke-width="0.18" stroke-linecap="round" stroke-linejoin="round" ><path transform="translate(0.000,0)" d="M0.05,-1 L0.05,-0.35 C0.05,0.05 0.6,0.05 0.72,-0.4 M0.74,-1 L0.74,0"/><path transform="translate(1.159,0)" d="M0.08,-0.48 L0.82,-0.52 C0.8,-1.02 0.1,-1.1 0.05,-0.5 C0.03,0.02 0.5,0.1 0.88,-0.08"/></g>
<g transform="translate(272.0,2639.0) rotate(0.00) scale(24.000,24.000)" fill="none" stroke="#4a44b6" stroke-width="0.18" stroke-linecap="round" stroke-linejoin="round" ><path transform="translate(0.000,0)" d="M0.75,-0.8 C0.5,-1.1 0.05,-0.9 0.05,-0.45 C0.05,0.05 0.6,0.05 0.75,-0.3 M0.76,-2.2 L0.8,0"/><path transform="translate(0.967,0)" d="M0.08,-0.48 L0.82,-0.52 C0.8,-1.02 0.1,-1.1 0.05,-0.5 C0.03,0.02 0.5,0.1 0.88,-0.08"/></g>
<g transform="translate(357.0,2640.0) rotate(0.00) scale(24.000,24.000)" fill="none" stroke="#4a44b6" stroke-width="0.18" stroke-linecap="round" stroke-linejoin="round" ><path transform="translate(0.000,0)" d="M0.75,-0.8 C0.5,-1.1 0.05,-0.9 0.05,-0.45 C0.05,0.05 0.6,0.05 0.75,-0.3 M0.76,-2.2 L0.8,0"/><path transform="translate(1.271,0)" d="M0.08,-0.48 L0.82,-0.52 C0.8,-1.02 0.1,-1.1 0.05,-0.5 C0.03,0.02 0.5,0.1 0.88,-0.08"/><path transform="translate(2.491,0)" d="M0.72,-0.9 C0.5,-1.05 0.1,-1 0.1,-0.75 C0.1,-0.5 0.72,-0.5 0.72,-0.25 C0.72,0.05 0.25,0.05 0.05,-0.1"/><path transform="translate(3.562,0)" d="M0.72,-0.9 C0.5,-1.05 0.1,-1 0.1,-0.75 C0.1,-0.5 0.72,-0.5 0.72,-0.25 C0.72,0.05 0.25,0.05 0.05,-0.1"/><path transform="translate(4.633,0)" d="M0.05,-1 L0.05,-0.35 C0.05,0.05 0.6,0.05 0.72,-0.4 M0.74,-1 L0.74,0"/><path transform="translate(5.783,0)" d="M0.72,-0.9 C0.5,-1.05 0.1,-1 0.1,-0.75 C0.1,-0.5 0.72,-0.5 0.72,-0.25 C0.72,0.05 0.25,0.05 0.05,-0.1"/></g>
<g transform="translate(966.0,2935.0) rotate(0.00) scale(33.600,28.000)" fill="none" stroke="#4a44b6" stroke-width="0.15" stroke-linecap="round" stroke-linejoin="round" ><path transform="translate(0.000,0)" d="M0.1,-1.32 L0.42,-1.8 L0.42,0"/><path transform="translate(0.819,0)" d="M0.12,-1.8 L0.08,-0.78 C0.1,-0.54 0.6,-0.6 0.78,-0.78 M0.72,-1.44 L0.72,0"/><path transform="translate(1.988,0)" d="M0.1,-1.62 C0.3,-1.944 0.8,-1.86 0.75,-1.38 C0.7,-1.02 0.42,-0.96 0.35,-0.96 C0.92,-0.96 0.92,0 0.4,0 C0.25,0 0.1,-0.06 0.05,-0.18"/><path transform="translate(3.127,0)" d="M0.42,-1.8 C-0.05,-1.8 -0.05,0 0.42,0 C0.89,0 0.89,-1.8 0.42,-1.8 Z"/></g>
<path transform="translate(1867.0,626.0) rotate(-40.0) scale(19.000) translate(-0.445,0.900)" d="M0.1,-1.44 C0.2,-1.944 0.85,-1.944 0.8,-1.32 C0.75,-0.84 0.3,-0.48 0.05,0 L0.88,0" fill="none" stroke="#3a3a3a" stroke-width="0.342" stroke-linecap="round" stroke-linejoin="round"/>
<path transform="translate(1884.0,601.0) rotate(-40.0) scale(18.000) translate(-0.430,0.900)" d="M0.45,-0.96 C0.05,-1.08 0.05,-1.8 0.45,-1.8 C0.85,-1.8 0.85,-1.08 0.45,-0.96 C0,-0.84 0,0 0.45,0 C0.9,0 0.9,-0.84 0.45,-0.96 Z" fill="none" stroke="#3a3a3a" stroke-width="0.361" stroke-linecap="round" stroke-linejoin="round"/>
<path transform="translate(1899.0,580.0) rotate(-40.0) scale(17.000) translate(-0.445,0.900)" d="M0.42,-1.8 C-0.05,-1.8 -0.05,0 0.42,0 C0.89,0 0.89,-1.8 0.42,-1.8 Z" fill="none" stroke="#3a3a3a" stroke-width="0.382" stroke-linecap="round" stroke-linejoin="round"/>
<path transform="translate(2097.0,881.0) rotate(-22.0) scale(19.000) translate(-0.430,0.900)" d="M0.45,-0.96 C0.05,-1.08 0.05,-1.8 0.45,-1.8 C0.85,-1.8 0.85,-1.08 0.45,-0.96 C0,-0.84 0,0 0.45,0 C0.9,0 0.9,-0.84 0.45,-0.96 Z" fill="none" stroke="#3a3a3a" stroke-width="0.342" stroke-linecap="round" stroke-linejoin="round"/>
<path transform="translate(2115.0,864.0) rotate(-22.0) scale(14.000) translate(-0.445,0.900)" d="M0.42,-1.8 C-0.05,-1.8 -0.05,0 0.42,0 C0.89,0 0.89,-1.8 0.42,-1.8 Z" fill="none" stroke="#3a3a3a" stroke-width="0.464" stroke-linecap="round" stroke-linejoin="round"/>
<path transform="translate(2148.0,980.0) rotate(-22.0) scale(23.000) translate(-0.430,0.900)" d="M0.75,-1.32 C0.75,-1.944 0.05,-1.92 0.1,-1.26 C0.15,-0.72 0.75,-0.84 0.75,-1.32 L0.7,0" fill="none" stroke="#3a3a3a" stroke-width="0.283" stroke-linecap="round" stroke-linejoin="round"/>
<path transform="translate(2169.0,960.0) rotate(-22.0) scale(17.000) translate(-0.445,0.900)" d="M0.42,-1.8 C-0.05,-1.8 -0.05,0 0.42,0 C0.89,0 0.89,-1.8 0.42,-1.8 Z" fill="none" stroke="#3a3a3a" stroke-width="0.382" stroke-linecap="round" stroke-linejoin="round"/>
<path transform="translate(1822.0,1017.0) rotate(28.0) scale(19.000) translate(-0.430,0.900)" d="M0.75,-1.32 C0.75,-1.944 0.05,-1.92 0.1,-1.26 C0.15,-0.72 0.75,-0.84 0.75,-1.32 L0.7,0" fill="none" stroke="#3a3a3a" stroke-width="0.342" stroke-linecap="round" stroke-linejoin="round"/>
<path transform="translate(1839.0,1035.0) rotate(28.0) scale(15.000) translate(-0.445,0.900)" d="M0.42,-1.8 C-0.05,-1.8 -0.05,0 0.42,0 C0.89,0 0.89,-1.8 0.42,-1.8 Z" fill="none" stroke="#3a3a3a" stroke-width="0.433" stroke-linecap="round" stroke-linejoin="round"/>
<path transform="translate(1905.0,1251.0) rotate(-35.0) scale(19.000) translate(-0.445,0.900)" d="M0.12,-1.8 L0.08,-0.78 C0.1,-0.54 0.6,-0.6 0.78,-0.78 M0.72,-1.44 L0.72,0" fill="none" stroke="#3a3a3a" stroke-width="0.316" stroke-linecap="round" stroke-linejoin="round"/>
<path transform="translate(1915.0,1224.0) rotate(-35.0) scale(14.000) translate(-0.270,0.900)" d="M0.1,-1.32 L0.42,-1.8 L0.42,0" fill="none" stroke="#3a3a3a" stroke-width="0.429" stroke-linecap="round" stroke-linejoin="round"/>
<path transform="translate(1928.0,1204.0) rotate(-35.0) scale(13.000) translate(-0.445,0.900)" d="M0.42,-1.8 C-0.05,-1.8 -0.05,0 0.42,0 C0.89,0 0.89,-1.8 0.42,-1.8 Z" fill="none" stroke="#3a3a3a" stroke-width="0.462" stroke-linecap="round" stroke-linejoin="round"/>
<g transform="translate(1593.3,1612.7) rotate(-22.00) scale(16.000,16.000)" fill="none" stroke="#3a3a3a" stroke-width="0.28" stroke-linecap="round" stroke-linejoin="round" ><path transform="translate(0.000,0)" d="M0.1,-1.62 C0.3,-1.944 0.8,-1.86 0.75,-1.38 C0.7,-1.02 0.42,-0.96 0.35,-0.96 C0.92,-0.96 0.92,0 0.4,0 C0.25,0 0.1,-0.06 0.05,-0.18"/><path transform="translate(1.070,0)" d="M0.42,-1.8 C-0.05,-1.8 -0.05,0 0.42,0 C0.89,0 0.89,-1.8 0.42,-1.8 Z"/><path transform="translate(2.170,0)" d="M0.42,-1.8 C-0.05,-1.8 -0.05,0 0.42,0 C0.89,0 0.89,-1.8 0.42,-1.8 Z"/></g>
<ellipse cx="1551" cy="1609" rx="15" ry="19" fill="none" stroke="#3a3a3a" stroke-width="5"/>
<polyline points="1546.0,1576.0 1542.0,1657.0" fill="none" stroke="#3a3a3a" stroke-width="5" stroke-linejoin="round" stroke-linecap="round" /></svg></body></html>
